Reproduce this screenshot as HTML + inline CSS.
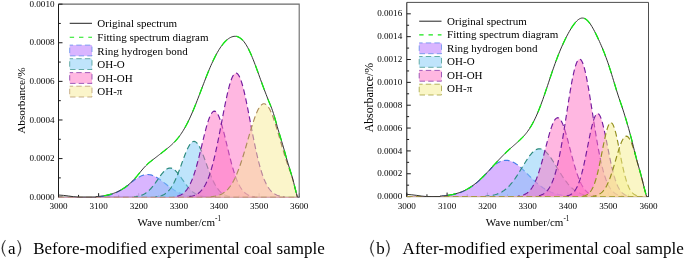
<!DOCTYPE html>
<html><head><meta charset="utf-8"><title>FTIR peak fitting</title>
<style>
html,body{margin:0;padding:0;background:#fff;}
body{width:685px;height:258px;overflow:hidden;font-family:"Liberation Serif",serif;}
svg{display:block;will-change:transform;}
svg text{font-family:"Liberation Serif",serif;fill:#000;}
</style></head><body>
<svg width="685" height="258" viewBox="0 0 685 258">
<rect width="685" height="258" fill="#fff"/>
<path d="M58.5 4.15 L299.2 4.15 L299.2 197.2" fill="none" stroke="#6a6a6a" stroke-width="1.1"/>
<path d="M58.5 4.15 L58.5 197.6" fill="none" stroke="#1a1a1a" stroke-width="1"/>
<path d="M58.0 197.2 L299.59999999999997 197.2" fill="none" stroke="#1a1a1a" stroke-width="0.85"/>
<path d="M58.5 197.2 V193.2 M78.56 197.2 V194.89999999999998 M98.62 197.2 V193.2 M58.5 197.2 H62.5 M58.5 177.89 H60.8 M58.5 158.59 H62.5 M58.5 139.28 H60.8 M58.5 119.98 H62.5 M58.5 100.67 H60.8 M58.5 81.37 H62.5 M58.5 62.07 H60.8 M58.5 42.76 H62.5 M58.5 23.45 H60.8 M58.5 4.15 H62.5" stroke="#1a1a1a" stroke-width="1" fill="none"/>
<path d="M118.68 197.2 V194.89999999999998 M138.73 197.2 V193.2 M158.79 197.2 V194.89999999999998 M178.85 197.2 V193.2 M198.91 197.2 V194.89999999999998 M218.97 197.2 V193.2 M239.03 197.2 V194.89999999999998 M259.08 197.2 V193.2 M279.14 197.2 V194.89999999999998 M299.2 197.2 V193.2" stroke="#1a1a1a" stroke-opacity="0.3" stroke-width="1" fill="none"/>
<text x="58.5" y="209" text-anchor="middle" font-size="9.1">3000</text>
<text x="98.62" y="209" text-anchor="middle" font-size="9.1">3100</text>
<text x="138.73" y="209" text-anchor="middle" font-size="9.1">3200</text>
<text x="178.85" y="209" text-anchor="middle" font-size="9.1">3300</text>
<text x="218.97" y="209" text-anchor="middle" font-size="9.1">3400</text>
<text x="259.08" y="209" text-anchor="middle" font-size="9.1">3500</text>
<text x="299.2" y="209" text-anchor="middle" font-size="9.1">3600</text>
<text x="54.5" y="199.8" text-anchor="end" font-size="9.1">0.0000</text>
<text x="54.5" y="161.19" text-anchor="end" font-size="9.1">0.0002</text>
<text x="54.5" y="122.58" text-anchor="end" font-size="9.1">0.0004</text>
<text x="54.5" y="83.97" text-anchor="end" font-size="9.1">0.0006</text>
<text x="54.5" y="45.36" text-anchor="end" font-size="9.1">0.0008</text>
<text x="54.5" y="6.75" text-anchor="end" font-size="9.1">0.0010</text>
<clipPath id="cL"><rect x="58.0" y="4.15" width="241.7" height="193.54999999999998"/></clipPath>
<g clip-path="url(#cL)">
<path d="M58.5 197.2 L59.42 197.2 L60.34 197.2 L61.27 197.2 L62.19 197.2 L63.11 197.2 L64.03 197.2 L64.96 197.2 L65.88 197.2 L66.8 197.2 L67.72 197.2 L68.65 197.2 L69.57 197.2 L70.49 197.2 L71.41 197.2 L72.34 197.2 L73.26 197.2 L74.18 197.2 L75.1 197.2 L76.03 197.2 L76.95 197.2 L77.87 197.2 L78.79 197.2 L79.72 197.2 L80.64 197.2 L81.56 197.2 L82.48 197.2 L83.4 197.2 L84.33 197.2 L85.25 197.2 L86.17 197.2 L87.09 197.2 L88.02 197.2 L88.94 197.2 L89.86 197.2 L90.78 197.2 L91.71 197.2 L92.63 197.2 L93.55 197.2 L94.47 197.2 L95.4 197.2 L96.32 196.88 L97.24 196.83 L98.16 196.77 L99.09 196.71 L100.01 196.63 L100.93 196.54 L101.85 196.44 L102.77 196.33 L103.7 196.21 L104.62 196.07 L105.54 195.92 L106.46 195.75 L107.39 195.56 L108.31 195.35 L109.23 195.12 L110.15 194.87 L111.08 194.6 L112 194.3 L112.92 193.98 L113.84 193.63 L114.77 193.25 L115.69 192.85 L116.61 192.42 L117.53 191.96 L118.46 191.51 L119.38 191.04 L120.3 190.54 L121.22 190.02 L122.15 189.48 L123.07 188.9 L123.99 188.3 L124.91 187.67 L125.83 187 L126.76 186.31 L127.68 185.59 L128.6 184.83 L129.52 184.05 L130.45 183.22 L131.37 182.37 L132.29 181.64 L133.21 180.93 L134.14 180.24 L135.06 179.57 L135.98 178.92 L136.9 178.3 L137.83 177.72 L138.75 177.17 L139.67 176.66 L140.59 176.2 L141.52 175.79 L142.44 175.43 L143.36 175.13 L144.28 174.88 L145.21 174.69 L146.13 174.57 L147.05 174.51 L147.97 174.51 L148.89 174.57 L149.82 174.7 L150.74 174.89 L151.66 175.13 L152.58 175.44 L153.51 175.8 L154.43 176.21 L155.35 176.67 L156.27 177.18 L157.2 177.73 L158.12 178.32 L159.04 178.94 L159.96 179.58 L160.89 180.26 L161.81 180.95 L162.73 181.66 L163.65 182.37 L164.58 183.1 L165.5 183.82 L166.42 184.55 L167.34 185.26 L168.26 185.97 L169.19 186.67 L170.11 187.35 L171.03 188.01 L171.95 188.65 L172.88 189.27 L173.8 189.86 L174.72 190.43 L175.64 190.97 L176.57 191.49 L177.49 191.97 L178.41 192.43 L179.33 192.86 L180.26 193.26 L181.18 193.64 L182.1 193.99 L183.02 194.31 L183.95 194.6 L184.87 194.88 L185.79 195.13 L186.71 195.36 L187.64 195.56 L188.56 195.75 L189.48 195.92 L190.4 196.08 L191.32 196.21 L192.25 196.34 L193.17 196.45 L194.09 196.54 L195.01 196.63 L195.94 196.71 L196.86 196.77 L197.78 196.83 L198.7 196.89 L199.63 196.93 L200.55 196.97 L201.47 197 L202.39 197.03 L203.32 197.06 L204.24 197.08 L205.16 197.1 L206.08 197.12 L207.01 197.13 L207.93 197.14 L208.85 197.15 L209.77 197.16 L210.69 197.17 L211.62 197.17 L212.54 197.18 L213.46 197.18 L214.38 197.18 L215.31 197.19 L216.23 197.19 L217.15 197.19 L218.07 197.19 L219 197.19 L219.92 197.2 L220.84 197.2 L221.76 197.2 L222.69 197.2 L223.61 197.2 L224.53 197.2 L225.45 197.2 L226.38 197.2 L227.3 197.2 L228.22 197.2 L229.14 197.2 L230.07 197.2 L230.99 197.2 L231.91 197.2 L232.83 197.2 L233.75 197.2 L234.68 197.2 L235.6 197.2 L236.52 197.2 L237.44 197.2 L238.37 197.2 L239.29 197.2 L240.21 197.2 L241.13 197.2 L242.06 197.2 L242.98 197.2 L243.9 197.2 L244.82 197.2 L245.75 197.2 L246.67 197.2 L247.59 197.2 L248.51 197.2 L249.44 197.2 L250.36 197.2 L251.28 197.2 L252.2 197.2 L253.13 197.2 L254.05 197.2 L254.97 197.2 L255.89 197.2 L256.81 197.2 L257.74 197.2 L258.66 197.2 L259.58 197.2 L260.5 197.2 L261.43 197.2 L262.35 197.2 L263.27 197.2 L264.19 197.2 L265.12 197.2 L266.04 197.2 L266.96 197.2 L267.88 197.2 L268.81 197.2 L269.73 197.2 L270.65 197.2 L271.57 197.2 L272.5 197.2 L273.42 197.2 L274.34 197.2 L275.26 197.2 L276.18 197.2 L277.11 197.2 L278.03 197.2 L278.95 197.2 L279.87 197.2 L280.8 197.2 L281.72 197.2 L282.64 197.2 L283.56 197.2 L284.49 197.2 L285.41 197.2 L286.33 197.2 L287.25 197.2 L288.18 197.2 L289.1 197.2 L290.02 197.2 L290.94 197.2 L291.87 197.2 L292.79 197.2 L293.71 197.2 L294.63 197.2 L295.56 197.2 L296.48 197.2 L297.4 197.2 L297.4 198 L58.5 198 Z" fill="#b46cff" fill-opacity="0.5" stroke="none"/>
<path d="M98.16 196.77 L99.09 196.71 L100.01 196.63 L100.93 196.54 L101.85 196.44 L102.77 196.33 L103.7 196.21 L104.62 196.07 L105.54 195.92 L106.46 195.75 L107.39 195.56 L108.31 195.35 L109.23 195.12 L110.15 194.87 L111.08 194.6 L112 194.3 L112.92 193.98 L113.84 193.63 L114.77 193.25 L115.69 192.85 L116.61 192.42 L117.53 191.96 L118.46 191.51 L119.38 191.04 L120.3 190.54 L121.22 190.02 L122.15 189.48 L123.07 188.9 L123.99 188.3 L124.91 187.67 L125.83 187 L126.76 186.31 L127.68 185.59 L128.6 184.83 L129.52 184.05 L130.45 183.22 L131.37 182.37 L132.29 181.64 L133.21 180.93 L134.14 180.24 L135.06 179.57 L135.98 178.92 L136.9 178.3 L137.83 177.72 L138.75 177.17 L139.67 176.66 L140.59 176.2 L141.52 175.79 L142.44 175.43 L143.36 175.13 L144.28 174.88 L145.21 174.69 L146.13 174.57 L147.05 174.51 L147.97 174.51 L148.89 174.57 L149.82 174.7 L150.74 174.89 L151.66 175.13 L152.58 175.44 L153.51 175.8 L154.43 176.21 L155.35 176.67 L156.27 177.18 L157.2 177.73 L158.12 178.32 L159.04 178.94 L159.96 179.58 L160.89 180.26 L161.81 180.95 L162.73 181.66 L163.65 182.37 L164.58 183.1 L165.5 183.82 L166.42 184.55 L167.34 185.26 L168.26 185.97 L169.19 186.67 L170.11 187.35 L171.03 188.01 L171.95 188.65 L172.88 189.27 L173.8 189.86 L174.72 190.43 L175.64 190.97 L176.57 191.49 L177.49 191.97 L178.41 192.43 L179.33 192.86 L180.26 193.26 L181.18 193.64 L182.1 193.99 L183.02 194.31 L183.95 194.6 L184.87 194.88 L185.79 195.13 L186.71 195.36 L187.64 195.56 L188.56 195.75 L189.48 195.92 L190.4 196.08 L191.32 196.21 L192.25 196.34 L193.17 196.45 L194.09 196.54 L195.01 196.63 L195.94 196.71 L196.86 196.77" fill="none" stroke="#4a7fe8" stroke-width="1.15" stroke-dasharray="5.8 3.4" stroke-dashoffset="0"/>
<path d="M58.5 197.2 L59.42 197.2 L60.34 197.2 L61.27 197.2 L62.19 197.2 L63.11 197.2 L64.03 197.2 L64.96 197.2 L65.88 197.2 L66.8 197.2 L67.72 197.2 L68.65 197.2 L69.57 197.2 L70.49 197.2 L71.41 197.2 L72.34 197.2 L73.26 197.2 L74.18 197.2 L75.1 197.2 L76.03 197.2 L76.95 197.2 L77.87 197.2 L78.79 197.2 L79.72 197.2 L80.64 197.2 L81.56 197.2 L82.48 197.2 L83.4 197.2 L84.33 197.2 L85.25 197.2 L86.17 197.2 L87.09 197.2 L88.02 197.2 L88.94 197.2 L89.86 197.2 L90.78 197.2 L91.71 197.2 L92.63 197.2 L93.55 197.2 L94.47 197.2 L95.4 197.2 L96.32 197.2 L97.24 197.2 L98.16 197.2 L99.09 197.2 L100.01 197.2 L100.93 197.2 L101.85 197.2 L102.77 197.2 L103.7 197.2 L104.62 197.2 L105.54 197.2 L106.46 197.2 L107.39 197.2 L108.31 197.2 L109.23 197.2 L110.15 197.2 L111.08 197.2 L112 197.2 L112.92 197.2 L113.84 197.2 L114.77 197.2 L115.69 197.2 L116.61 197.2 L117.53 197.2 L118.46 197.2 L119.38 197.19 L120.3 197.19 L121.22 197.19 L122.15 197.19 L123.07 197.18 L123.99 197.17 L124.91 197.17 L125.83 197.16 L126.76 197.14 L127.68 197.12 L128.6 197.1 L129.52 197.07 L130.45 197.04 L131.37 196.99 L132.29 196.94 L133.21 196.87 L134.14 196.79 L135.06 196.7 L135.98 196.58 L136.9 196.43 L137.83 196.27 L138.75 196.07 L139.67 195.83 L140.59 195.56 L141.52 195.24 L142.44 194.87 L143.36 194.45 L144.28 193.97 L145.21 193.43 L146.13 192.83 L147.05 192.16 L147.97 191.41 L148.89 190.59 L149.82 189.7 L150.74 188.74 L151.66 187.71 L152.58 186.61 L153.51 185.45 L154.43 184.23 L155.35 182.97 L156.27 181.68 L157.2 180.36 L158.12 179.03 L159.04 177.71 L159.96 176.41 L160.89 175.14 L161.81 173.94 L162.73 172.8 L163.65 171.75 L164.58 170.8 L165.5 169.97 L166.42 169.28 L167.34 168.72 L168.26 168.32 L169.19 168.08 L170.11 168 L171.03 168.08 L171.95 168.33 L172.88 168.73 L173.8 169.29 L174.72 169.99 L175.64 170.82 L176.57 171.77 L177.49 172.82 L178.41 173.96 L179.33 175.17 L180.26 176.43 L181.18 177.74 L182.1 179.06 L183.02 180.39 L183.95 181.7 L184.87 183 L185.79 184.26 L186.71 185.47 L187.64 186.63 L188.56 187.73 L189.48 188.76 L190.4 189.72 L191.32 190.61 L192.25 191.43 L193.17 192.17 L194.09 192.84 L195.01 193.45 L195.94 193.98 L196.86 194.46 L197.78 194.88 L198.7 195.25 L199.63 195.56 L200.55 195.84 L201.47 196.07 L202.39 196.27 L203.32 196.44 L204.24 196.58 L205.16 196.7 L206.08 196.8 L207.01 196.88 L207.93 196.94 L208.85 197 L209.77 197.04 L210.69 197.07 L211.62 197.1 L212.54 197.12 L213.46 197.14 L214.38 197.16 L215.31 197.17 L216.23 197.17 L217.15 197.18 L218.07 197.19 L219 197.19 L219.92 197.19 L220.84 197.19 L221.76 197.2 L222.69 197.2 L223.61 197.2 L224.53 197.2 L225.45 197.2 L226.38 197.2 L227.3 197.2 L228.22 197.2 L229.14 197.2 L230.07 197.2 L230.99 197.2 L231.91 197.2 L232.83 197.2 L233.75 197.2 L234.68 197.2 L235.6 197.2 L236.52 197.2 L237.44 197.2 L238.37 197.2 L239.29 197.2 L240.21 197.2 L241.13 197.2 L242.06 197.2 L242.98 197.2 L243.9 197.2 L244.82 197.2 L245.75 197.2 L246.67 197.2 L247.59 197.2 L248.51 197.2 L249.44 197.2 L250.36 197.2 L251.28 197.2 L252.2 197.2 L253.13 197.2 L254.05 197.2 L254.97 197.2 L255.89 197.2 L256.81 197.2 L257.74 197.2 L258.66 197.2 L259.58 197.2 L260.5 197.2 L261.43 197.2 L262.35 197.2 L263.27 197.2 L264.19 197.2 L265.12 197.2 L266.04 197.2 L266.96 197.2 L267.88 197.2 L268.81 197.2 L269.73 197.2 L270.65 197.2 L271.57 197.2 L272.5 197.2 L273.42 197.2 L274.34 197.2 L275.26 197.2 L276.18 197.2 L277.11 197.2 L278.03 197.2 L278.95 197.2 L279.87 197.2 L280.8 197.2 L281.72 197.2 L282.64 197.2 L283.56 197.2 L284.49 197.2 L285.41 197.2 L286.33 197.2 L287.25 197.2 L288.18 197.2 L289.1 197.2 L290.02 197.2 L290.94 197.2 L291.87 197.2 L292.79 197.2 L293.71 197.2 L294.63 197.2 L295.56 197.2 L296.48 197.2 L297.4 197.2 L297.4 198 L58.5 198 Z" fill="#80caf8" fill-opacity="0.5" stroke="none"/>
<path d="M134.14 196.79 L135.06 196.7 L135.98 196.58 L136.9 196.43 L137.83 196.27 L138.75 196.07 L139.67 195.83 L140.59 195.56 L141.52 195.24 L142.44 194.87 L143.36 194.45 L144.28 193.97 L145.21 193.43 L146.13 192.83 L147.05 192.16 L147.97 191.41 L148.89 190.59 L149.82 189.7 L150.74 188.74 L151.66 187.71 L152.58 186.61 L153.51 185.45 L154.43 184.23 L155.35 182.97 L156.27 181.68 L157.2 180.36 L158.12 179.03 L159.04 177.71 L159.96 176.41 L160.89 175.14 L161.81 173.94 L162.73 172.8 L163.65 171.75 L164.58 170.8 L165.5 169.97 L166.42 169.28 L167.34 168.72 L168.26 168.32 L169.19 168.08 L170.11 168 L171.03 168.08 L171.95 168.33 L172.88 168.73 L173.8 169.29 L174.72 169.99 L175.64 170.82 L176.57 171.77 L177.49 172.82 L178.41 173.96 L179.33 175.17 L180.26 176.43 L181.18 177.74 L182.1 179.06 L183.02 180.39 L183.95 181.7 L184.87 183 L185.79 184.26 L186.71 185.47 L187.64 186.63 L188.56 187.73 L189.48 188.76 L190.4 189.72 L191.32 190.61 L192.25 191.43 L193.17 192.17 L194.09 192.84 L195.01 193.45 L195.94 193.98 L196.86 194.46 L197.78 194.88 L198.7 195.25 L199.63 195.56 L200.55 195.84 L201.47 196.07 L202.39 196.27 L203.32 196.44 L204.24 196.58 L205.16 196.7 L206.08 196.8" fill="none" stroke="#2a8a7c" stroke-width="1.15" stroke-dasharray="5.8 3.4" stroke-dashoffset="1.9"/>
<path d="M58.5 197.2 L59.42 197.2 L60.34 197.2 L61.27 197.2 L62.19 197.2 L63.11 197.2 L64.03 197.2 L64.96 197.2 L65.88 197.2 L66.8 197.2 L67.72 197.2 L68.65 197.2 L69.57 197.2 L70.49 197.2 L71.41 197.2 L72.34 197.2 L73.26 197.2 L74.18 197.2 L75.1 197.2 L76.03 197.2 L76.95 197.2 L77.87 197.2 L78.79 197.2 L79.72 197.2 L80.64 197.2 L81.56 197.2 L82.48 197.2 L83.4 197.2 L84.33 197.2 L85.25 197.2 L86.17 197.2 L87.09 197.2 L88.02 197.2 L88.94 197.2 L89.86 197.2 L90.78 197.2 L91.71 197.2 L92.63 197.2 L93.55 197.2 L94.47 197.2 L95.4 197.2 L96.32 197.2 L97.24 197.2 L98.16 197.2 L99.09 197.2 L100.01 197.2 L100.93 197.2 L101.85 197.2 L102.77 197.2 L103.7 197.2 L104.62 197.2 L105.54 197.2 L106.46 197.2 L107.39 197.2 L108.31 197.2 L109.23 197.2 L110.15 197.2 L111.08 197.2 L112 197.2 L112.92 197.2 L113.84 197.2 L114.77 197.2 L115.69 197.2 L116.61 197.2 L117.53 197.2 L118.46 197.2 L119.38 197.2 L120.3 197.2 L121.22 197.2 L122.15 197.2 L123.07 197.2 L123.99 197.2 L124.91 197.2 L125.83 197.2 L126.76 197.2 L127.68 197.2 L128.6 197.2 L129.52 197.2 L130.45 197.2 L131.37 197.2 L132.29 197.2 L133.21 197.2 L134.14 197.2 L135.06 197.2 L135.98 197.2 L136.9 197.2 L137.83 197.2 L138.75 197.2 L139.67 197.2 L140.59 197.2 L141.52 197.19 L142.44 197.19 L143.36 197.19 L144.28 197.19 L145.21 197.18 L146.13 197.17 L147.05 197.17 L147.97 197.15 L148.89 197.14 L149.82 197.12 L150.74 197.1 L151.66 197.06 L152.58 197.02 L153.51 196.97 L154.43 196.91 L155.35 196.83 L156.27 196.73 L157.2 196.61 L158.12 196.46 L159.04 196.28 L159.96 196.06 L160.89 195.8 L161.81 195.48 L162.73 195.11 L163.65 194.67 L164.58 194.16 L165.5 193.56 L166.42 192.87 L167.34 192.07 L168.26 191.17 L169.19 190.15 L170.11 189 L171.03 187.72 L171.95 186.3 L172.88 184.74 L173.8 183.03 L174.72 181.19 L175.64 179.21 L176.57 177.1 L177.49 174.87 L178.41 172.53 L179.33 170.11 L180.26 167.62 L181.18 165.08 L182.1 162.52 L183.02 159.97 L183.95 157.47 L184.87 155.03 L185.79 152.71 L186.71 150.52 L187.64 148.5 L188.56 146.69 L189.48 145.1 L190.4 143.77 L191.32 142.73 L192.25 141.97 L193.17 141.53 L194.09 141.4 L195.01 141.59 L195.94 142.1 L196.86 142.91 L197.78 144.02 L198.7 145.4 L199.63 147.03 L200.55 148.89 L201.47 150.94 L202.39 153.16 L203.32 155.51 L204.24 157.96 L205.16 160.48 L206.08 163.03 L207.01 165.59 L207.93 168.12 L208.85 170.6 L209.77 173.01 L210.69 175.32 L211.62 177.53 L212.54 179.61 L213.46 181.57 L214.38 183.38 L215.31 185.06 L216.23 186.59 L217.15 187.98 L218.07 189.24 L219 190.36 L219.92 191.36 L220.84 192.24 L221.76 193.01 L222.69 193.68 L223.61 194.26 L224.53 194.76 L225.45 195.19 L226.38 195.55 L227.3 195.85 L228.22 196.11 L229.14 196.32 L230.07 196.49 L230.99 196.64 L231.91 196.75 L232.83 196.85 L233.75 196.92 L234.68 196.98 L235.6 197.03 L236.52 197.07 L237.44 197.1 L238.37 197.13 L239.29 197.14 L240.21 197.16 L241.13 197.17 L242.06 197.18 L242.98 197.18 L243.9 197.19 L244.82 197.19 L245.75 197.19 L246.67 197.19 L247.59 197.2 L248.51 197.2 L249.44 197.2 L250.36 197.2 L251.28 197.2 L252.2 197.2 L253.13 197.2 L254.05 197.2 L254.97 197.2 L255.89 197.2 L256.81 197.2 L257.74 197.2 L258.66 197.2 L259.58 197.2 L260.5 197.2 L261.43 197.2 L262.35 197.2 L263.27 197.2 L264.19 197.2 L265.12 197.2 L266.04 197.2 L266.96 197.2 L267.88 197.2 L268.81 197.2 L269.73 197.2 L270.65 197.2 L271.57 197.2 L272.5 197.2 L273.42 197.2 L274.34 197.2 L275.26 197.2 L276.18 197.2 L277.11 197.2 L278.03 197.2 L278.95 197.2 L279.87 197.2 L280.8 197.2 L281.72 197.2 L282.64 197.2 L283.56 197.2 L284.49 197.2 L285.41 197.2 L286.33 197.2 L287.25 197.2 L288.18 197.2 L289.1 197.2 L290.02 197.2 L290.94 197.2 L291.87 197.2 L292.79 197.2 L293.71 197.2 L294.63 197.2 L295.56 197.2 L296.48 197.2 L297.4 197.2 L297.4 198 L58.5 198 Z" fill="#80caf8" fill-opacity="0.5" stroke="none"/>
<path d="M155.35 196.83 L156.27 196.73 L157.2 196.61 L158.12 196.46 L159.04 196.28 L159.96 196.06 L160.89 195.8 L161.81 195.48 L162.73 195.11 L163.65 194.67 L164.58 194.16 L165.5 193.56 L166.42 192.87 L167.34 192.07 L168.26 191.17 L169.19 190.15 L170.11 189 L171.03 187.72 L171.95 186.3 L172.88 184.74 L173.8 183.03 L174.72 181.19 L175.64 179.21 L176.57 177.1 L177.49 174.87 L178.41 172.53 L179.33 170.11 L180.26 167.62 L181.18 165.08 L182.1 162.52 L183.02 159.97 L183.95 157.47 L184.87 155.03 L185.79 152.71 L186.71 150.52 L187.64 148.5 L188.56 146.69 L189.48 145.1 L190.4 143.77 L191.32 142.73 L192.25 141.97 L193.17 141.53 L194.09 141.4 L195.01 141.59 L195.94 142.1 L196.86 142.91 L197.78 144.02 L198.7 145.4 L199.63 147.03 L200.55 148.89 L201.47 150.94 L202.39 153.16 L203.32 155.51 L204.24 157.96 L205.16 160.48 L206.08 163.03 L207.01 165.59 L207.93 168.12 L208.85 170.6 L209.77 173.01 L210.69 175.32 L211.62 177.53 L212.54 179.61 L213.46 181.57 L214.38 183.38 L215.31 185.06 L216.23 186.59 L217.15 187.98 L218.07 189.24 L219 190.36 L219.92 191.36 L220.84 192.24 L221.76 193.01 L222.69 193.68 L223.61 194.26 L224.53 194.76 L225.45 195.19 L226.38 195.55 L227.3 195.85 L228.22 196.11 L229.14 196.32 L230.07 196.49 L230.99 196.64 L231.91 196.75" fill="none" stroke="#2a8a7c" stroke-width="1.15" stroke-dasharray="5.8 3.4" stroke-dashoffset="3.8"/>
<path d="M58.5 197.2 L59.42 197.2 L60.34 197.2 L61.27 197.2 L62.19 197.2 L63.11 197.2 L64.03 197.2 L64.96 197.2 L65.88 197.2 L66.8 197.2 L67.72 197.2 L68.65 197.2 L69.57 197.2 L70.49 197.2 L71.41 197.2 L72.34 197.2 L73.26 197.2 L74.18 197.2 L75.1 197.2 L76.03 197.2 L76.95 197.2 L77.87 197.2 L78.79 197.2 L79.72 197.2 L80.64 197.2 L81.56 197.2 L82.48 197.2 L83.4 197.2 L84.33 197.2 L85.25 197.2 L86.17 197.2 L87.09 197.2 L88.02 197.2 L88.94 197.2 L89.86 197.2 L90.78 197.2 L91.71 197.2 L92.63 197.2 L93.55 197.2 L94.47 197.2 L95.4 197.2 L96.32 197.2 L97.24 197.2 L98.16 197.2 L99.09 197.2 L100.01 197.2 L100.93 197.2 L101.85 197.2 L102.77 197.2 L103.7 197.2 L104.62 197.2 L105.54 197.2 L106.46 197.2 L107.39 197.2 L108.31 197.2 L109.23 197.2 L110.15 197.2 L111.08 197.2 L112 197.2 L112.92 197.2 L113.84 197.2 L114.77 197.2 L115.69 197.2 L116.61 197.2 L117.53 197.2 L118.46 197.2 L119.38 197.2 L120.3 197.2 L121.22 197.2 L122.15 197.2 L123.07 197.2 L123.99 197.2 L124.91 197.2 L125.83 197.2 L126.76 197.2 L127.68 197.2 L128.6 197.2 L129.52 197.2 L130.45 197.2 L131.37 197.2 L132.29 197.2 L133.21 197.2 L134.14 197.2 L135.06 197.2 L135.98 197.2 L136.9 197.2 L137.83 197.2 L138.75 197.2 L139.67 197.2 L140.59 197.2 L141.52 197.2 L142.44 197.2 L143.36 197.2 L144.28 197.2 L145.21 197.2 L146.13 197.2 L147.05 197.2 L147.97 197.2 L148.89 197.2 L149.82 197.2 L150.74 197.2 L151.66 197.2 L152.58 197.2 L153.51 197.2 L154.43 197.2 L155.35 197.2 L156.27 197.2 L157.2 197.2 L158.12 197.2 L159.04 197.2 L159.96 197.19 L160.89 197.19 L161.81 197.19 L162.73 197.18 L163.65 197.18 L164.58 197.17 L165.5 197.16 L166.42 197.15 L167.34 197.13 L168.26 197.11 L169.19 197.08 L170.11 197.04 L171.03 196.99 L171.95 196.93 L172.88 196.85 L173.8 196.76 L174.72 196.64 L175.64 196.5 L176.57 196.32 L177.49 196.1 L178.41 195.84 L179.33 195.52 L180.26 195.14 L181.18 194.68 L182.1 194.14 L183.02 193.51 L183.95 192.77 L184.87 191.92 L185.79 190.93 L186.71 189.79 L187.64 188.5 L188.56 187.04 L189.48 185.4 L190.4 183.56 L191.32 181.53 L192.25 179.29 L193.17 176.85 L194.09 174.19 L195.01 171.33 L195.94 168.28 L196.86 165.03 L197.78 161.62 L198.7 158.06 L199.63 154.38 L200.55 150.6 L201.47 146.77 L202.39 142.92 L203.32 139.09 L204.24 135.33 L205.16 131.68 L206.08 128.2 L207.01 124.92 L207.93 121.9 L208.85 119.18 L209.77 116.8 L210.69 114.8 L211.62 113.21 L212.54 112.05 L213.46 111.34 L214.38 111.1 L215.31 111.33 L216.23 112.02 L217.15 113.16 L218.07 114.74 L219 116.73 L219.92 119.1 L220.84 121.81 L221.76 124.82 L222.69 128.08 L223.61 131.56 L224.53 135.2 L225.45 138.96 L226.38 142.79 L227.3 146.64 L228.22 150.47 L229.14 154.25 L230.07 157.94 L230.99 161.5 L231.91 164.92 L232.83 168.17 L233.75 171.23 L234.68 174.1 L235.6 176.76 L236.52 179.22 L237.44 181.46 L238.37 183.5 L239.29 185.34 L240.21 186.99 L241.13 188.46 L242.06 189.75 L242.98 190.89 L243.9 191.89 L244.82 192.75 L245.75 193.49 L246.67 194.12 L247.59 194.66 L248.51 195.12 L249.44 195.51 L250.36 195.83 L251.28 196.09 L252.2 196.31 L253.13 196.49 L254.05 196.64 L254.97 196.76 L255.89 196.85 L256.81 196.93 L257.74 196.99 L258.66 197.04 L259.58 197.07 L260.5 197.1 L261.43 197.13 L262.35 197.15 L263.27 197.16 L264.19 197.17 L265.12 197.18 L266.04 197.18 L266.96 197.19 L267.88 197.19 L268.81 197.19 L269.73 197.2 L270.65 197.2 L271.57 197.2 L272.5 197.2 L273.42 197.2 L274.34 197.2 L275.26 197.2 L276.18 197.2 L277.11 197.2 L278.03 197.2 L278.95 197.2 L279.87 197.2 L280.8 197.2 L281.72 197.2 L282.64 197.2 L283.56 197.2 L284.49 197.2 L285.41 197.2 L286.33 197.2 L287.25 197.2 L288.18 197.2 L289.1 197.2 L290.02 197.2 L290.94 197.2 L291.87 197.2 L292.79 197.2 L293.71 197.2 L294.63 197.2 L295.56 197.2 L296.48 197.2 L297.4 197.2 L297.4 198 L58.5 198 Z" fill="#ff70c4" fill-opacity="0.5" stroke="none"/>
<path d="M173.8 196.76 L174.72 196.64 L175.64 196.5 L176.57 196.32 L177.49 196.1 L178.41 195.84 L179.33 195.52 L180.26 195.14 L181.18 194.68 L182.1 194.14 L183.02 193.51 L183.95 192.77 L184.87 191.92 L185.79 190.93 L186.71 189.79 L187.64 188.5 L188.56 187.04 L189.48 185.4 L190.4 183.56 L191.32 181.53 L192.25 179.29 L193.17 176.85 L194.09 174.19 L195.01 171.33 L195.94 168.28 L196.86 165.03 L197.78 161.62 L198.7 158.06 L199.63 154.38 L200.55 150.6 L201.47 146.77 L202.39 142.92 L203.32 139.09 L204.24 135.33 L205.16 131.68 L206.08 128.2 L207.01 124.92 L207.93 121.9 L208.85 119.18 L209.77 116.8 L210.69 114.8 L211.62 113.21 L212.54 112.05 L213.46 111.34 L214.38 111.1 L215.31 111.33 L216.23 112.02 L217.15 113.16 L218.07 114.74 L219 116.73 L219.92 119.1 L220.84 121.81 L221.76 124.82 L222.69 128.08 L223.61 131.56 L224.53 135.2 L225.45 138.96 L226.38 142.79 L227.3 146.64 L228.22 150.47 L229.14 154.25 L230.07 157.94 L230.99 161.5 L231.91 164.92 L232.83 168.17 L233.75 171.23 L234.68 174.1 L235.6 176.76 L236.52 179.22 L237.44 181.46 L238.37 183.5 L239.29 185.34 L240.21 186.99 L241.13 188.46 L242.06 189.75 L242.98 190.89 L243.9 191.89 L244.82 192.75 L245.75 193.49 L246.67 194.12 L247.59 194.66 L248.51 195.12 L249.44 195.51 L250.36 195.83 L251.28 196.09 L252.2 196.31 L253.13 196.49 L254.05 196.64 L254.97 196.76" fill="none" stroke="#741c9e" stroke-width="1.15" stroke-dasharray="5.8 3.4" stroke-dashoffset="5.7"/>
<path d="M58.5 197.2 L59.42 197.2 L60.34 197.2 L61.27 197.2 L62.19 197.2 L63.11 197.2 L64.03 197.2 L64.96 197.2 L65.88 197.2 L66.8 197.2 L67.72 197.2 L68.65 197.2 L69.57 197.2 L70.49 197.2 L71.41 197.2 L72.34 197.2 L73.26 197.2 L74.18 197.2 L75.1 197.2 L76.03 197.2 L76.95 197.2 L77.87 197.2 L78.79 197.2 L79.72 197.2 L80.64 197.2 L81.56 197.2 L82.48 197.2 L83.4 197.2 L84.33 197.2 L85.25 197.2 L86.17 197.2 L87.09 197.2 L88.02 197.2 L88.94 197.2 L89.86 197.2 L90.78 197.2 L91.71 197.2 L92.63 197.2 L93.55 197.2 L94.47 197.2 L95.4 197.2 L96.32 197.2 L97.24 197.2 L98.16 197.2 L99.09 197.2 L100.01 197.2 L100.93 197.2 L101.85 197.2 L102.77 197.2 L103.7 197.2 L104.62 197.2 L105.54 197.2 L106.46 197.2 L107.39 197.2 L108.31 197.2 L109.23 197.2 L110.15 197.2 L111.08 197.2 L112 197.2 L112.92 197.2 L113.84 197.2 L114.77 197.2 L115.69 197.2 L116.61 197.2 L117.53 197.2 L118.46 197.2 L119.38 197.2 L120.3 197.2 L121.22 197.2 L122.15 197.2 L123.07 197.2 L123.99 197.2 L124.91 197.2 L125.83 197.2 L126.76 197.2 L127.68 197.2 L128.6 197.2 L129.52 197.2 L130.45 197.2 L131.37 197.2 L132.29 197.2 L133.21 197.2 L134.14 197.2 L135.06 197.2 L135.98 197.2 L136.9 197.2 L137.83 197.2 L138.75 197.2 L139.67 197.2 L140.59 197.2 L141.52 197.2 L142.44 197.2 L143.36 197.2 L144.28 197.2 L145.21 197.2 L146.13 197.2 L147.05 197.2 L147.97 197.2 L148.89 197.2 L149.82 197.2 L150.74 197.2 L151.66 197.2 L152.58 197.2 L153.51 197.2 L154.43 197.2 L155.35 197.2 L156.27 197.2 L157.2 197.2 L158.12 197.2 L159.04 197.2 L159.96 197.2 L160.89 197.2 L161.81 197.2 L162.73 197.2 L163.65 197.2 L164.58 197.2 L165.5 197.2 L166.42 197.2 L167.34 197.2 L168.26 197.2 L169.19 197.2 L170.11 197.2 L171.03 197.2 L171.95 197.19 L172.88 197.19 L173.8 197.19 L174.72 197.19 L175.64 197.18 L176.57 197.18 L177.49 197.17 L178.41 197.16 L179.33 197.15 L180.26 197.14 L181.18 197.12 L182.1 197.1 L183.02 197.07 L183.95 197.04 L184.87 196.99 L185.79 196.94 L186.71 196.87 L187.64 196.79 L188.56 196.69 L189.48 196.58 L190.4 196.43 L191.32 196.26 L192.25 196.05 L193.17 195.8 L194.09 195.51 L195.01 195.16 L195.94 194.75 L196.86 194.27 L197.78 193.71 L198.7 193.06 L199.63 192.32 L200.55 191.46 L201.47 190.47 L202.39 189.36 L203.32 188.09 L204.24 186.67 L205.16 185.07 L206.08 183.29 L207.01 181.31 L207.93 179.13 L208.85 176.73 L209.77 174.12 L210.69 171.27 L211.62 168.2 L212.54 164.89 L213.46 161.36 L214.38 157.61 L215.31 153.64 L216.23 149.48 L217.15 145.14 L218.07 140.64 L219 136 L219.92 131.26 L220.84 126.44 L221.76 121.59 L222.69 116.75 L223.61 111.95 L224.53 107.23 L225.45 102.65 L226.38 98.25 L227.3 94.08 L228.22 90.17 L229.14 86.58 L230.07 83.34 L230.99 80.49 L231.91 78.07 L232.83 76.11 L233.75 74.62 L234.68 73.63 L235.6 73.15 L236.52 73.18 L237.44 73.73 L238.37 74.79 L239.29 76.34 L240.21 78.37 L241.13 80.85 L242.06 83.75 L242.98 87.03 L243.9 90.67 L244.82 94.61 L245.75 98.82 L246.67 103.25 L247.59 107.85 L248.51 112.57 L249.44 117.38 L250.36 122.23 L251.28 127.08 L252.2 131.89 L253.13 136.62 L254.05 141.24 L254.97 145.72 L255.89 150.04 L256.81 154.18 L257.74 158.11 L258.66 161.84 L259.58 165.34 L260.5 168.61 L261.43 171.66 L262.35 174.47 L263.27 177.06 L264.19 179.43 L265.12 181.58 L266.04 183.54 L266.96 185.29 L267.88 186.87 L268.81 188.27 L269.73 189.51 L270.65 190.61 L271.57 191.58 L272.5 192.42 L273.42 193.15 L274.34 193.79 L275.26 194.34 L276.18 194.81 L277.11 195.21 L278.03 195.55 L278.95 195.84 L279.87 196.08 L280.8 196.28 L281.72 196.45 L282.64 196.59 L283.56 196.71 L284.49 196.8 L285.41 196.88 L286.33 196.95 L287.25 197 L288.18 197.04 L289.1 197.07 L290.02 197.1 L290.94 197.12 L291.87 197.14 L292.79 197.15 L293.71 197.16 L294.63 197.17 L295.56 197.18 L296.48 197.18 L297.4 197.2 L297.4 198 L58.5 198 Z" fill="#ff70c4" fill-opacity="0.5" stroke="none"/>
<path d="M187.64 196.79 L188.56 196.69 L189.48 196.58 L190.4 196.43 L191.32 196.26 L192.25 196.05 L193.17 195.8 L194.09 195.51 L195.01 195.16 L195.94 194.75 L196.86 194.27 L197.78 193.71 L198.7 193.06 L199.63 192.32 L200.55 191.46 L201.47 190.47 L202.39 189.36 L203.32 188.09 L204.24 186.67 L205.16 185.07 L206.08 183.29 L207.01 181.31 L207.93 179.13 L208.85 176.73 L209.77 174.12 L210.69 171.27 L211.62 168.2 L212.54 164.89 L213.46 161.36 L214.38 157.61 L215.31 153.64 L216.23 149.48 L217.15 145.14 L218.07 140.64 L219 136 L219.92 131.26 L220.84 126.44 L221.76 121.59 L222.69 116.75 L223.61 111.95 L224.53 107.23 L225.45 102.65 L226.38 98.25 L227.3 94.08 L228.22 90.17 L229.14 86.58 L230.07 83.34 L230.99 80.49 L231.91 78.07 L232.83 76.11 L233.75 74.62 L234.68 73.63 L235.6 73.15 L236.52 73.18 L237.44 73.73 L238.37 74.79 L239.29 76.34 L240.21 78.37 L241.13 80.85 L242.06 83.75 L242.98 87.03 L243.9 90.67 L244.82 94.61 L245.75 98.82 L246.67 103.25 L247.59 107.85 L248.51 112.57 L249.44 117.38 L250.36 122.23 L251.28 127.08 L252.2 131.89 L253.13 136.62 L254.05 141.24 L254.97 145.72 L255.89 150.04 L256.81 154.18 L257.74 158.11 L258.66 161.84 L259.58 165.34 L260.5 168.61 L261.43 171.66 L262.35 174.47 L263.27 177.06 L264.19 179.43 L265.12 181.58 L266.04 183.54 L266.96 185.29 L267.88 186.87 L268.81 188.27 L269.73 189.51 L270.65 190.61 L271.57 191.58 L272.5 192.42 L273.42 193.15 L274.34 193.79 L275.26 194.34 L276.18 194.81 L277.11 195.21 L278.03 195.55 L278.95 195.84 L279.87 196.08 L280.8 196.28 L281.72 196.45 L282.64 196.59 L283.56 196.71 L284.49 196.8" fill="none" stroke="#741c9e" stroke-width="1.15" stroke-dasharray="5.8 3.4" stroke-dashoffset="7.6"/>
<path d="M58.5 197.2 L59.42 197.2 L60.34 197.2 L61.27 197.2 L62.19 197.2 L63.11 197.2 L64.03 197.2 L64.96 197.2 L65.88 197.2 L66.8 197.2 L67.72 197.2 L68.65 197.2 L69.57 197.2 L70.49 197.2 L71.41 197.2 L72.34 197.2 L73.26 197.2 L74.18 197.2 L75.1 197.2 L76.03 197.2 L76.95 197.2 L77.87 197.2 L78.79 197.2 L79.72 197.2 L80.64 197.2 L81.56 197.2 L82.48 197.2 L83.4 197.2 L84.33 197.2 L85.25 197.2 L86.17 197.2 L87.09 197.2 L88.02 197.2 L88.94 197.2 L89.86 197.2 L90.78 197.2 L91.71 197.2 L92.63 197.2 L93.55 197.2 L94.47 197.2 L95.4 197.2 L96.32 197.2 L97.24 197.2 L98.16 197.2 L99.09 197.2 L100.01 197.2 L100.93 197.2 L101.85 197.2 L102.77 197.2 L103.7 197.2 L104.62 197.2 L105.54 197.2 L106.46 197.2 L107.39 197.2 L108.31 197.2 L109.23 197.2 L110.15 197.2 L111.08 197.2 L112 197.2 L112.92 197.2 L113.84 197.2 L114.77 197.2 L115.69 197.2 L116.61 197.2 L117.53 197.2 L118.46 197.2 L119.38 197.2 L120.3 197.2 L121.22 197.2 L122.15 197.2 L123.07 197.2 L123.99 197.2 L124.91 197.2 L125.83 197.2 L126.76 197.2 L127.68 197.2 L128.6 197.2 L129.52 197.2 L130.45 197.2 L131.37 197.2 L132.29 197.2 L133.21 197.2 L134.14 197.2 L135.06 197.2 L135.98 197.2 L136.9 197.2 L137.83 197.2 L138.75 197.2 L139.67 197.2 L140.59 197.2 L141.52 197.2 L142.44 197.2 L143.36 197.2 L144.28 197.2 L145.21 197.2 L146.13 197.2 L147.05 197.2 L147.97 197.2 L148.89 197.2 L149.82 197.2 L150.74 197.2 L151.66 197.2 L152.58 197.2 L153.51 197.2 L154.43 197.2 L155.35 197.2 L156.27 197.2 L157.2 197.2 L158.12 197.2 L159.04 197.2 L159.96 197.2 L160.89 197.2 L161.81 197.2 L162.73 197.2 L163.65 197.2 L164.58 197.2 L165.5 197.2 L166.42 197.2 L167.34 197.2 L168.26 197.2 L169.19 197.2 L170.11 197.2 L171.03 197.2 L171.95 197.2 L172.88 197.2 L173.8 197.2 L174.72 197.2 L175.64 197.2 L176.57 197.2 L177.49 197.2 L178.41 197.2 L179.33 197.2 L180.26 197.2 L181.18 197.2 L182.1 197.2 L183.02 197.2 L183.95 197.2 L184.87 197.2 L185.79 197.2 L186.71 197.2 L187.64 197.2 L188.56 197.2 L189.48 197.2 L190.4 197.2 L191.32 197.2 L192.25 197.19 L193.17 197.19 L194.09 197.19 L195.01 197.19 L195.94 197.18 L196.86 197.18 L197.78 197.18 L198.7 197.17 L199.63 197.16 L200.55 197.15 L201.47 197.14 L202.39 197.13 L203.32 197.11 L204.24 197.09 L205.16 197.06 L206.08 197.03 L207.01 196.99 L207.93 196.95 L208.85 196.89 L209.77 196.83 L210.69 196.75 L211.62 196.67 L212.54 196.56 L213.46 196.44 L214.38 196.29 L215.31 196.12 L216.23 195.92 L217.15 195.7 L218.07 195.43 L219 195.13 L219.92 194.79 L220.84 194.39 L221.76 193.94 L222.69 193.43 L223.61 192.86 L224.53 192.22 L225.45 191.49 L226.38 190.69 L227.3 189.79 L228.22 188.8 L229.14 187.7 L230.07 186.49 L230.99 185.17 L231.91 183.74 L232.83 182.17 L233.75 180.48 L234.68 178.66 L235.6 176.71 L236.52 174.62 L237.44 172.4 L238.37 170.05 L239.29 167.57 L240.21 164.97 L241.13 162.25 L242.06 159.42 L242.98 156.49 L243.9 153.48 L244.82 150.4 L245.75 147.26 L246.67 144.07 L247.59 140.87 L248.51 137.66 L249.44 134.47 L250.36 131.33 L251.28 128.24 L252.2 125.24 L253.13 122.36 L254.05 119.6 L254.97 117 L255.89 114.58 L256.81 112.36 L257.74 110.35 L258.66 108.59 L259.58 107.07 L260.5 105.83 L261.43 104.86 L262.35 104.18 L263.27 103.79 L264.19 103.71 L265.12 103.92 L266.04 104.43 L266.96 105.23 L267.88 106.32 L268.81 107.68 L269.73 109.3 L270.65 111.17 L271.57 113.27 L272.5 115.57 L273.42 118.07 L274.34 120.74 L275.26 123.56 L276.18 126.49 L277.11 129.53 L278.03 132.64 L278.95 135.81 L279.87 139.01 L280.8 142.22 L281.72 145.42 L282.64 148.58 L283.56 151.7 L284.49 154.76 L285.41 157.73 L286.33 160.62 L287.25 163.4 L288.18 166.07 L289.1 168.63 L290.02 171.05 L290.94 173.35 L291.87 176.17 L292.79 179.37 L293.71 182.9 L294.63 186.6 L295.56 190.22 L296.48 193.84 L297.4 197.2 L297.4 198 L58.5 198 Z" fill="#f7ec95" fill-opacity="0.5" stroke="none"/>
<path d="M58.5 197.2 H297.4" fill="none" stroke="#ad8c5c" stroke-width="0.8" stroke-dasharray="5.8 3.4"/>
<path d="M210.69 196.75 L211.62 196.67 L212.54 196.56 L213.46 196.44 L214.38 196.29 L215.31 196.12 L216.23 195.92 L217.15 195.7 L218.07 195.43 L219 195.13 L219.92 194.79 L220.84 194.39 L221.76 193.94 L222.69 193.43 L223.61 192.86 L224.53 192.22 L225.45 191.49 L226.38 190.69 L227.3 189.79 L228.22 188.8 L229.14 187.7 L230.07 186.49 L230.99 185.17 L231.91 183.74 L232.83 182.17 L233.75 180.48 L234.68 178.66 L235.6 176.71 L236.52 174.62 L237.44 172.4 L238.37 170.05 L239.29 167.57 L240.21 164.97 L241.13 162.25 L242.06 159.42 L242.98 156.49 L243.9 153.48 L244.82 150.4 L245.75 147.26 L246.67 144.07 L247.59 140.87 L248.51 137.66 L249.44 134.47 L250.36 131.33 L251.28 128.24 L252.2 125.24 L253.13 122.36 L254.05 119.6 L254.97 117 L255.89 114.58 L256.81 112.36 L257.74 110.35 L258.66 108.59 L259.58 107.07 L260.5 105.83 L261.43 104.86 L262.35 104.18 L263.27 103.79 L264.19 103.71 L265.12 103.92 L266.04 104.43 L266.96 105.23 L267.88 106.32 L268.81 107.68 L269.73 109.3 L270.65 111.17 L271.57 113.27 L272.5 115.57 L273.42 118.07 L274.34 120.74 L275.26 123.56 L276.18 126.49 L277.11 129.53 L278.03 132.64 L278.95 135.81 L279.87 139.01 L280.8 142.22 L281.72 145.42 L282.64 148.58 L283.56 151.7 L284.49 154.76 L285.41 157.73 L286.33 160.62 L287.25 163.4 L288.18 166.07 L289.1 168.63 L290.02 171.05 L290.94 173.35 L291.87 176.17 L292.79 179.37 L293.71 182.9 L294.63 186.6 L295.56 190.22 L296.48 193.84 L297.4 197.2" fill="none" stroke="#ad8c5c" stroke-width="1.15" stroke-dasharray="5.8 3.4" stroke-dashoffset="9.5"/>
<path d="M58.5 195 L63.5 195.4 L68.5 196 L73.5 196.7 L78.5 197.2 L96 197.2 L96 196.62 L96.92 196.55 L97.84 196.48 L98.76 196.39 L99.68 196.3 L100.6 196.2 L101.52 196.08 L102.44 195.96 L103.36 195.83 L104.28 195.68 L105.2 195.52 L106.12 195.35 L107.04 195.16 L107.96 194.95 L108.87 194.73 L109.79 194.5 L110.71 194.24 L111.63 193.97 L112.55 193.67 L113.47 193.36 L114.39 193.02 L115.31 192.66 L116.23 192.28 L117.15 191.87 L118.07 191.44 L118.99 190.99 L119.91 190.51 L120.83 190 L121.75 189.46 L122.67 188.9 L123.59 188.31 L124.51 187.7 L125.43 187.05 L126.35 186.37 L127.27 185.67 L128.19 184.93 L129.11 184.16 L130.03 183.35 L130.95 182.51 L131.87 181.64 L132.79 180.73 L133.71 179.77 L134.62 178.79 L135.54 177.76 L136.46 176.7 L137.38 175.62 L138.3 174.51 L139.22 173.39 L140.14 172.26 L141.06 171.14 L141.98 170.03 L142.9 168.94 L143.82 167.89 L144.74 166.88 L145.66 165.92 L146.58 165 L147.5 164.13 L148.42 163.3 L149.34 162.5 L150.26 161.74 L151.18 161 L152.1 160.28 L153.02 159.57 L153.94 158.87 L154.86 158.17 L155.78 157.46 L156.7 156.76 L157.62 156.05 L158.54 155.34 L159.45 154.62 L160.37 153.91 L161.29 153.19 L162.21 152.47 L163.13 151.76 L164.05 151.04 L164.97 150.32 L165.89 149.59 L166.81 148.86 L167.73 148.11 L168.65 147.35 L169.57 146.58 L170.49 145.78 L171.41 144.96 L172.33 144.11 L173.25 143.23 L174.17 142.31 L175.09 141.36 L176.01 140.35 L176.93 139.3 L177.85 138.2 L178.77 137.04 L179.69 135.82 L180.61 134.54 L181.53 133.2 L182.45 131.8 L183.37 130.33 L184.28 128.78 L185.2 127.17 L186.12 125.5 L187.04 123.75 L187.96 121.93 L188.88 120.05 L189.8 118.1 L190.72 116.1 L191.64 114.03 L192.56 111.9 L193.48 109.72 L194.4 107.5 L195.32 105.22 L196.24 102.91 L197.16 100.57 L198.08 98.2 L199 95.8 L199.92 93.39 L200.84 90.97 L201.76 88.55 L202.68 86.13 L203.6 83.72 L204.52 81.32 L205.44 78.95 L206.36 76.6 L207.28 74.29 L208.2 72.01 L209.12 69.78 L210.03 67.6 L210.95 65.48 L211.87 63.41 L212.79 61.41 L213.71 59.47 L214.63 57.59 L215.55 55.79 L216.47 54.07 L217.39 52.41 L218.31 50.84 L219.23 49.34 L220.15 47.92 L221.07 46.57 L221.99 45.31 L222.91 44.13 L223.83 43.03 L224.75 42 L225.67 41.06 L226.59 40.2 L227.51 39.42 L228.43 38.72 L229.35 38.11 L230.27 37.58 L231.19 37.14 L232.11 36.8 L233.03 36.53 L233.95 36.37 L234.86 36.31 L235.78 36.35 L236.7 36.47 L237.62 36.73 L238.54 37.09 L239.46 37.56 L240.38 38.17 L241.3 38.89 L242.22 39.73 L243.14 40.71 L244.06 41.82 L244.98 43.06 L245.9 44.44 L246.82 45.94 L247.74 47.58 L248.66 49.34 L249.58 51.21 L250.5 53.21 L251.42 55.31 L252.34 57.5 L253.26 59.78 L254.18 62.14 L255.1 64.56 L256.02 67.03 L256.94 69.54 L257.86 72.08 L258.78 74.62 L259.69 77.17 L260.61 79.71 L261.53 82.24 L262.45 84.74 L263.37 87.21 L264.29 89.66 L265.21 92.08 L266.13 94.48 L267.05 96.87 L267.97 99.25 L268.89 101.52 L269.81 103.7 L270.73 105.9 L271.65 108.23 L272.57 110.78 L273.49 113.59 L274.41 116.62 L275.33 119.78 L276.25 123.02 L277.17 126.26 L278.09 129.42 L279.01 132.5 L279.93 135.56 L280.85 138.62 L281.77 141.69 L282.69 144.79 L283.61 147.93 L284.53 151.15 L285.44 154.51 L286.36 157.83 L287.28 160.97 L288.2 164.02 L289.12 167.03 L290.04 170.05 L290.96 172.99 L291.88 175.98 L292.8 179.17 L293.72 182.69 L294.64 186.38 L295.56 190 L296.48 193.6 L297.4 197.2" fill="none" stroke="#333" stroke-width="1"/>
<path d="M96 196.62 L96.92 196.55 L97.84 196.48 L98.76 196.39 L99.68 196.3 L100.6 196.2 L101.52 196.08 L102.44 195.96 L103.36 195.83 L104.28 195.68 L105.2 195.52 L106.12 195.35 L107.04 195.16 L107.96 194.95 L108.87 194.73 L109.79 194.5 L110.71 194.24 L111.63 193.97 L112.55 193.67 L113.47 193.36 L114.39 193.02 L115.31 192.66 L116.23 192.28 L117.15 191.87 L118.07 191.44 L118.99 190.99 L119.91 190.51 L120.83 190 L121.75 189.46 L122.67 188.9 L123.59 188.31 L124.51 187.7 L125.43 187.05 L126.35 186.37 L127.27 185.67 L128.19 184.93 L129.11 184.16 L130.03 183.35 L130.95 182.51 L131.87 181.64 L132.79 180.73 L133.71 179.77 L134.62 178.79 L135.54 177.76 L136.46 176.7 L137.38 175.62 L138.3 174.51 L139.22 173.39 L140.14 172.26 L141.06 171.14 L141.98 170.03 L142.9 168.94 L143.82 167.89 L144.74 166.88 L145.66 165.92 L146.58 165 L147.5 164.13 L148.42 163.3 L149.34 162.5 L150.26 161.74 L151.18 161 L152.1 160.28 L153.02 159.57 L153.94 158.87 L154.86 158.17 L155.78 157.46 L156.7 156.76 L157.62 156.05 L158.54 155.34 L159.45 154.62 L160.37 153.91 L161.29 153.19 L162.21 152.47 L163.13 151.76 L164.05 151.04 L164.97 150.32 L165.89 149.59 L166.81 148.86 L167.73 148.11 L168.65 147.35 L169.57 146.58 L170.49 145.78 L171.41 144.96 L172.33 144.11 L173.25 143.23 L174.17 142.31 L175.09 141.36 L176.01 140.35 L176.93 139.3 L177.85 138.2 L178.77 137.04 L179.69 135.82 L180.61 134.54 L181.53 133.2 L182.45 131.8 L183.37 130.33 L184.28 128.78 L185.2 127.17 L186.12 125.5 L187.04 123.75 L187.96 121.93 L188.88 120.05 L189.8 118.1 L190.72 116.1 L191.64 114.03 L192.56 111.9 L193.48 109.72 L194.4 107.5 L195.32 105.22 L196.24 102.91 L197.16 100.57 L198.08 98.2 L199 95.8 L199.92 93.39 L200.84 90.97 L201.76 88.55 L202.68 86.13 L203.6 83.72 L204.52 81.32 L205.44 78.95 L206.36 76.6 L207.28 74.29 L208.2 72.01 L209.12 69.78 L210.03 67.6 L210.95 65.48 L211.87 63.41 L212.79 61.41 L213.71 59.47 L214.63 57.59 L215.55 55.79 L216.47 54.07 L217.39 52.41 L218.31 50.84 L219.23 49.34 L220.15 47.92 L221.07 46.57 L221.99 45.31 L222.91 44.13 L223.83 43.03 L224.75 42 L225.67 41.06 L226.59 40.2 L227.51 39.42 L228.43 38.72 L229.35 38.11 L230.27 37.58 L231.19 37.14 L232.11 36.8 L233.03 36.53 L233.95 36.37 L234.86 36.31 L235.78 36.35 L236.7 36.47 L237.62 36.73 L238.54 37.09 L239.46 37.56 L240.38 38.17 L241.3 38.89 L242.22 39.73 L243.14 40.71 L244.06 41.82 L244.98 43.06 L245.9 44.44 L246.82 45.94 L247.74 47.58 L248.66 49.34 L249.58 51.21 L250.5 53.21 L251.42 55.31 L252.34 57.5 L253.26 59.78 L254.18 62.14 L255.1 64.56 L256.02 67.03 L256.94 69.54 L257.86 72.08 L258.78 74.62 L259.69 77.17 L260.61 79.71 L261.53 82.24 L262.45 84.74 L263.37 87.21 L264.29 89.66 L265.21 92.08 L266.13 94.48 L267.05 96.87 L267.97 99.25 L268.89 101.52 L269.81 103.7 L270.73 105.9 L271.65 108.23 L272.57 110.78 L273.49 113.59 L274.41 116.62 L275.33 119.78 L276.25 123.02 L277.17 126.26 L278.09 129.42 L279.01 132.5 L279.93 135.56 L280.85 138.62 L281.77 141.69 L282.69 144.79 L283.61 147.93 L284.53 151.15 L285.44 154.51 L286.36 157.83 L287.28 160.97 L288.2 164.02 L289.12 167.03 L290.04 170.05 L290.96 172.99 L291.88 175.98 L292.8 179.17 L293.72 182.69 L294.64 186.38 L295.56 190 L296.48 193.6 L297.4 197.2" fill="none" stroke="#12ea12" stroke-width="1.3" stroke-dasharray="8 10" stroke-dashoffset="10"/>
</g>
<path d="M406.8 2.4 L648.5 2.4 L648.5 196.6" fill="none" stroke="#3a3a3a" stroke-width="0.9"/>
<path d="M406.8 2.4 L406.8 197.0" fill="none" stroke="#1a1a1a" stroke-width="1"/>
<path d="M406.3 196.6 L648.9 196.6" fill="none" stroke="#1a1a1a" stroke-width="0.85"/>
<path d="M406.8 196.6 V192.6 M426.94 196.6 V194.29999999999998 M447.08 196.6 V192.6 M406.8 196.6 H410.8 M406.8 185.18 H409.1 M406.8 173.75 H410.8 M406.8 162.33 H409.1 M406.8 150.91 H410.8 M406.8 139.48 H409.1 M406.8 128.06 H410.8 M406.8 116.64 H409.1 M406.8 105.21 H410.8 M406.8 93.79 H409.1 M406.8 82.36 H410.8 M406.8 70.94 H409.1 M406.8 59.52 H410.8 M406.8 48.09 H409.1 M406.8 36.67 H410.8 M406.8 25.25 H409.1 M406.8 13.82 H410.8" stroke="#1a1a1a" stroke-width="1" fill="none"/>
<path d="M467.23 196.6 V194.29999999999998 M487.37 196.6 V192.6 M507.51 196.6 V194.29999999999998 M527.65 196.6 V192.6 M547.79 196.6 V194.29999999999998 M567.93 196.6 V192.6 M588.08 196.6 V194.29999999999998 M608.22 196.6 V192.6 M628.36 196.6 V194.29999999999998 M648.5 196.6 V192.6" stroke="#1a1a1a" stroke-opacity="0.3" stroke-width="1" fill="none"/>
<text x="406.8" y="208.5" text-anchor="middle" font-size="9.1">3000</text>
<text x="447.08" y="208.5" text-anchor="middle" font-size="9.1">3100</text>
<text x="487.37" y="208.5" text-anchor="middle" font-size="9.1">3200</text>
<text x="527.65" y="208.5" text-anchor="middle" font-size="9.1">3300</text>
<text x="567.93" y="208.5" text-anchor="middle" font-size="9.1">3400</text>
<text x="608.22" y="208.5" text-anchor="middle" font-size="9.1">3500</text>
<text x="648.5" y="208.5" text-anchor="middle" font-size="9.1">3600</text>
<text x="402.2" y="199.2" text-anchor="end" font-size="9.1">0.0000</text>
<text x="402.2" y="176.35" text-anchor="end" font-size="9.1">0.0002</text>
<text x="402.2" y="153.51" text-anchor="end" font-size="9.1">0.0004</text>
<text x="402.2" y="130.66" text-anchor="end" font-size="9.1">0.0006</text>
<text x="402.2" y="107.81" text-anchor="end" font-size="9.1">0.0008</text>
<text x="402.2" y="84.96" text-anchor="end" font-size="9.1">0.0010</text>
<text x="402.2" y="62.12" text-anchor="end" font-size="9.1">0.0012</text>
<text x="402.2" y="39.27" text-anchor="end" font-size="9.1">0.0014</text>
<text x="402.2" y="16.42" text-anchor="end" font-size="9.1">0.0016</text>
<clipPath id="cR"><rect x="406.3" y="2.4" width="242.7" height="194.7"/></clipPath>
<g clip-path="url(#cR)">
<path d="M406.8 196.6 L407.73 196.6 L408.65 196.6 L409.58 196.6 L410.5 196.6 L411.43 196.6 L412.36 196.6 L413.28 196.6 L414.21 196.6 L415.13 196.6 L416.06 196.6 L416.98 196.6 L417.91 196.6 L418.84 196.6 L419.76 196.6 L420.69 196.6 L421.61 196.6 L422.54 196.6 L423.47 196.6 L424.39 196.6 L425.32 196.6 L426.24 196.6 L427.17 196.6 L428.09 196.6 L429.02 196.6 L429.95 196.6 L430.87 196.6 L431.8 196.6 L432.72 196.6 L433.65 196.6 L434.58 196.6 L435.5 196.6 L436.43 196.6 L437.35 196.6 L438.28 196.6 L439.21 196.6 L440.13 196.3 L441.06 196.23 L441.98 196.16 L442.91 196.08 L443.83 196 L444.76 195.91 L445.69 195.81 L446.61 195.7 L447.54 195.58 L448.46 195.45 L449.39 195.3 L450.32 195.15 L451.24 194.99 L452.17 194.81 L453.09 194.61 L454.02 194.4 L454.95 194.18 L455.87 193.94 L456.8 193.68 L457.72 193.4 L458.65 193.11 L459.57 192.8 L460.5 192.46 L461.43 192.1 L462.35 191.73 L463.28 191.33 L464.2 190.9 L465.13 190.46 L466.06 189.99 L466.98 189.49 L467.91 188.97 L468.83 188.43 L469.76 187.86 L470.68 187.26 L471.61 186.64 L472.54 185.99 L473.46 185.31 L474.39 184.62 L475.31 183.89 L476.24 183.14 L477.17 182.37 L478.09 181.57 L479.02 180.75 L479.94 179.91 L480.87 179.05 L481.8 178.16 L482.72 177.26 L483.65 176.34 L484.57 175.4 L485.5 174.45 L486.42 173.48 L487.35 172.51 L488.28 171.52 L489.2 170.52 L490.13 169.52 L491.05 168.51 L491.98 167.49 L492.91 166.48 L493.83 165.46 L494.76 164.74 L495.68 164.08 L496.61 163.46 L497.54 162.89 L498.46 162.37 L499.39 161.9 L500.31 161.49 L501.24 161.14 L502.16 160.85 L503.09 160.62 L504.02 160.45 L504.94 160.34 L505.87 160.3 L506.79 160.32 L507.72 160.41 L508.65 160.56 L509.57 160.78 L510.5 161.05 L511.42 161.39 L512.35 161.78 L513.27 162.23 L514.2 162.74 L515.13 163.29 L516.05 163.9 L516.98 164.55 L517.9 165.24 L518.83 165.98 L519.76 166.75 L520.68 167.55 L521.61 168.38 L522.53 169.23 L523.46 170.11 L524.39 171 L525.31 171.91 L526.24 172.82 L527.16 173.75 L528.09 174.67 L529.01 175.6 L529.94 176.52 L530.87 177.44 L531.79 178.34 L532.72 179.24 L533.64 180.12 L534.57 180.98 L535.5 181.82 L536.42 182.65 L537.35 183.45 L538.27 184.22 L539.2 184.97 L540.13 185.7 L541.05 186.4 L541.98 187.07 L542.9 187.71 L543.83 188.32 L544.75 188.91 L545.68 189.46 L546.61 189.99 L547.53 190.49 L548.46 190.96 L549.38 191.41 L550.31 191.82 L551.24 192.22 L552.16 192.58 L553.09 192.93 L554.01 193.25 L554.94 193.54 L555.86 193.82 L556.79 194.07 L557.72 194.31 L558.64 194.53 L559.57 194.73 L560.49 194.91 L561.42 195.08 L562.35 195.23 L563.27 195.37 L564.2 195.5 L565.12 195.62 L566.05 195.72 L566.98 195.82 L567.9 195.91 L568.83 195.98 L569.75 196.06 L570.68 196.12 L571.6 196.17 L572.53 196.22 L573.46 196.27 L574.38 196.31 L575.31 196.35 L576.23 196.38 L577.16 196.41 L578.09 196.43 L579.01 196.45 L579.94 196.47 L580.86 196.49 L581.79 196.5 L582.72 196.52 L583.64 196.53 L584.57 196.54 L585.49 196.55 L586.42 196.55 L587.34 196.56 L588.27 196.57 L589.2 196.57 L590.12 196.58 L591.05 196.58 L591.97 196.58 L592.9 196.59 L593.83 196.59 L594.75 196.59 L595.68 196.59 L596.6 196.59 L597.53 196.59 L598.45 196.59 L599.38 196.6 L600.31 196.6 L601.23 196.6 L602.16 196.6 L603.08 196.6 L604.01 196.6 L604.94 196.6 L605.86 196.6 L606.79 196.6 L607.71 196.6 L608.64 196.6 L609.57 196.6 L610.49 196.6 L611.42 196.6 L612.34 196.6 L613.27 196.6 L614.19 196.6 L615.12 196.6 L616.05 196.6 L616.97 196.6 L617.9 196.6 L618.82 196.6 L619.75 196.6 L620.68 196.6 L621.6 196.6 L622.53 196.6 L623.45 196.6 L624.38 196.6 L625.31 196.6 L626.23 196.6 L627.16 196.6 L628.08 196.6 L629.01 196.6 L629.93 196.6 L630.86 196.6 L631.79 196.6 L632.71 196.6 L633.64 196.6 L634.56 196.6 L635.49 196.6 L636.42 196.6 L637.34 196.6 L638.27 196.6 L639.19 196.6 L640.12 196.6 L641.04 196.6 L641.97 196.6 L642.9 196.6 L643.82 196.6 L644.75 196.6 L645.67 196.6 L646.6 196.6 L646.6 197.4 L406.8 197.4 Z" fill="#b46cff" fill-opacity="0.5" stroke="none"/>
<path d="M441.98 196.16 L442.91 196.08 L443.83 196 L444.76 195.91 L445.69 195.81 L446.61 195.7 L447.54 195.58 L448.46 195.45 L449.39 195.3 L450.32 195.15 L451.24 194.99 L452.17 194.81 L453.09 194.61 L454.02 194.4 L454.95 194.18 L455.87 193.94 L456.8 193.68 L457.72 193.4 L458.65 193.11 L459.57 192.8 L460.5 192.46 L461.43 192.1 L462.35 191.73 L463.28 191.33 L464.2 190.9 L465.13 190.46 L466.06 189.99 L466.98 189.49 L467.91 188.97 L468.83 188.43 L469.76 187.86 L470.68 187.26 L471.61 186.64 L472.54 185.99 L473.46 185.31 L474.39 184.62 L475.31 183.89 L476.24 183.14 L477.17 182.37 L478.09 181.57 L479.02 180.75 L479.94 179.91 L480.87 179.05 L481.8 178.16 L482.72 177.26 L483.65 176.34 L484.57 175.4 L485.5 174.45 L486.42 173.48 L487.35 172.51 L488.28 171.52 L489.2 170.52 L490.13 169.52 L491.05 168.51 L491.98 167.49 L492.91 166.48 L493.83 165.46 L494.76 164.74 L495.68 164.08 L496.61 163.46 L497.54 162.89 L498.46 162.37 L499.39 161.9 L500.31 161.49 L501.24 161.14 L502.16 160.85 L503.09 160.62 L504.02 160.45 L504.94 160.34 L505.87 160.3 L506.79 160.32 L507.72 160.41 L508.65 160.56 L509.57 160.78 L510.5 161.05 L511.42 161.39 L512.35 161.78 L513.27 162.23 L514.2 162.74 L515.13 163.29 L516.05 163.9 L516.98 164.55 L517.9 165.24 L518.83 165.98 L519.76 166.75 L520.68 167.55 L521.61 168.38 L522.53 169.23 L523.46 170.11 L524.39 171 L525.31 171.91 L526.24 172.82 L527.16 173.75 L528.09 174.67 L529.01 175.6 L529.94 176.52 L530.87 177.44 L531.79 178.34 L532.72 179.24 L533.64 180.12 L534.57 180.98 L535.5 181.82 L536.42 182.65 L537.35 183.45 L538.27 184.22 L539.2 184.97 L540.13 185.7 L541.05 186.4 L541.98 187.07 L542.9 187.71 L543.83 188.32 L544.75 188.91 L545.68 189.46 L546.61 189.99 L547.53 190.49 L548.46 190.96 L549.38 191.41 L550.31 191.82 L551.24 192.22 L552.16 192.58 L553.09 192.93 L554.01 193.25 L554.94 193.54 L555.86 193.82 L556.79 194.07 L557.72 194.31 L558.64 194.53 L559.57 194.73 L560.49 194.91 L561.42 195.08 L562.35 195.23 L563.27 195.37 L564.2 195.5 L565.12 195.62 L566.05 195.72 L566.98 195.82 L567.9 195.91 L568.83 195.98 L569.75 196.06 L570.68 196.12 L571.6 196.17" fill="none" stroke="#4a7fe8" stroke-width="1.15" stroke-dasharray="5.8 3.4" stroke-dashoffset="0"/>
<path d="M406.8 196.6 L407.73 196.6 L408.65 196.6 L409.58 196.6 L410.5 196.6 L411.43 196.6 L412.36 196.6 L413.28 196.6 L414.21 196.6 L415.13 196.6 L416.06 196.6 L416.98 196.6 L417.91 196.6 L418.84 196.6 L419.76 196.6 L420.69 196.6 L421.61 196.6 L422.54 196.6 L423.47 196.6 L424.39 196.6 L425.32 196.6 L426.24 196.6 L427.17 196.6 L428.09 196.6 L429.02 196.6 L429.95 196.6 L430.87 196.6 L431.8 196.6 L432.72 196.6 L433.65 196.6 L434.58 196.6 L435.5 196.6 L436.43 196.6 L437.35 196.6 L438.28 196.6 L439.21 196.6 L440.13 196.6 L441.06 196.6 L441.98 196.6 L442.91 196.6 L443.83 196.6 L444.76 196.6 L445.69 196.6 L446.61 196.6 L447.54 196.6 L448.46 196.6 L449.39 196.6 L450.32 196.6 L451.24 196.6 L452.17 196.6 L453.09 196.6 L454.02 196.6 L454.95 196.6 L455.87 196.6 L456.8 196.6 L457.72 196.6 L458.65 196.6 L459.57 196.6 L460.5 196.6 L461.43 196.6 L462.35 196.6 L463.28 196.6 L464.2 196.6 L465.13 196.59 L466.06 196.59 L466.98 196.59 L467.91 196.59 L468.83 196.59 L469.76 196.58 L470.68 196.58 L471.61 196.57 L472.54 196.57 L473.46 196.56 L474.39 196.55 L475.31 196.54 L476.24 196.53 L477.17 196.52 L478.09 196.5 L479.02 196.48 L479.94 196.45 L480.87 196.43 L481.8 196.39 L482.72 196.35 L483.65 196.31 L484.57 196.25 L485.5 196.19 L486.42 196.12 L487.35 196.04 L488.28 195.94 L489.2 195.83 L490.13 195.71 L491.05 195.56 L491.98 195.4 L492.91 195.22 L493.83 195.01 L494.76 194.78 L495.68 194.52 L496.61 194.23 L497.54 193.9 L498.46 193.54 L499.39 193.14 L500.31 192.7 L501.24 192.22 L502.16 191.69 L503.09 191.11 L504.02 190.48 L504.94 189.8 L505.87 189.06 L506.79 188.26 L507.72 187.41 L508.65 186.5 L509.57 185.53 L510.5 184.49 L511.42 183.4 L512.35 182.25 L513.27 181.05 L514.2 179.79 L515.13 178.48 L516.05 177.12 L516.98 175.72 L517.9 174.28 L518.83 172.8 L519.76 171.31 L520.68 169.79 L521.61 168.26 L522.53 166.72 L523.46 165.2 L524.39 163.68 L525.31 162.19 L526.24 160.73 L527.16 159.32 L528.09 157.95 L529.01 156.65 L529.94 155.43 L530.87 154.28 L531.79 153.22 L532.72 152.26 L533.64 151.4 L534.57 150.66 L535.5 150.04 L536.42 149.53 L537.35 149.16 L538.27 148.92 L539.2 148.81 L540.13 148.83 L541.05 148.99 L541.98 149.28 L542.9 149.7 L543.83 150.24 L544.75 150.91 L545.68 151.69 L546.61 152.58 L547.53 153.58 L548.46 154.67 L549.38 155.85 L550.31 157.1 L551.24 158.43 L552.16 159.81 L553.09 161.24 L554.01 162.71 L554.94 164.21 L555.86 165.73 L556.79 167.26 L557.72 168.79 L558.64 170.32 L559.57 171.83 L560.49 173.32 L561.42 174.79 L562.35 176.21 L563.27 177.6 L564.2 178.94 L565.12 180.24 L566.05 181.48 L566.98 182.66 L567.9 183.79 L568.83 184.86 L569.75 185.87 L570.68 186.82 L571.6 187.72 L572.53 188.55 L573.46 189.32 L574.38 190.04 L575.31 190.71 L576.23 191.32 L577.16 191.88 L578.09 192.4 L579.01 192.86 L579.94 193.29 L580.86 193.67 L581.79 194.02 L582.72 194.33 L583.64 194.61 L584.57 194.86 L585.49 195.09 L586.42 195.29 L587.34 195.46 L588.27 195.62 L589.2 195.75 L590.12 195.87 L591.05 195.98 L591.97 196.07 L592.9 196.15 L593.83 196.21 L594.75 196.27 L595.68 196.32 L596.6 196.37 L597.53 196.4 L598.45 196.44 L599.38 196.46 L600.31 196.49 L601.23 196.51 L602.16 196.52 L603.08 196.54 L604.01 196.55 L604.94 196.56 L605.86 196.56 L606.79 196.57 L607.71 196.58 L608.64 196.58 L609.57 196.58 L610.49 196.59 L611.42 196.59 L612.34 196.59 L613.27 196.59 L614.19 196.59 L615.12 196.6 L616.05 196.6 L616.97 196.6 L617.9 196.6 L618.82 196.6 L619.75 196.6 L620.68 196.6 L621.6 196.6 L622.53 196.6 L623.45 196.6 L624.38 196.6 L625.31 196.6 L626.23 196.6 L627.16 196.6 L628.08 196.6 L629.01 196.6 L629.93 196.6 L630.86 196.6 L631.79 196.6 L632.71 196.6 L633.64 196.6 L634.56 196.6 L635.49 196.6 L636.42 196.6 L637.34 196.6 L638.27 196.6 L639.19 196.6 L640.12 196.6 L641.04 196.6 L641.97 196.6 L642.9 196.6 L643.82 196.6 L644.75 196.6 L645.67 196.6 L646.6 196.6 L646.6 197.4 L406.8 197.4 Z" fill="#80caf8" fill-opacity="0.5" stroke="none"/>
<path d="M485.5 196.19 L486.42 196.12 L487.35 196.04 L488.28 195.94 L489.2 195.83 L490.13 195.71 L491.05 195.56 L491.98 195.4 L492.91 195.22 L493.83 195.01 L494.76 194.78 L495.68 194.52 L496.61 194.23 L497.54 193.9 L498.46 193.54 L499.39 193.14 L500.31 192.7 L501.24 192.22 L502.16 191.69 L503.09 191.11 L504.02 190.48 L504.94 189.8 L505.87 189.06 L506.79 188.26 L507.72 187.41 L508.65 186.5 L509.57 185.53 L510.5 184.49 L511.42 183.4 L512.35 182.25 L513.27 181.05 L514.2 179.79 L515.13 178.48 L516.05 177.12 L516.98 175.72 L517.9 174.28 L518.83 172.8 L519.76 171.31 L520.68 169.79 L521.61 168.26 L522.53 166.72 L523.46 165.2 L524.39 163.68 L525.31 162.19 L526.24 160.73 L527.16 159.32 L528.09 157.95 L529.01 156.65 L529.94 155.43 L530.87 154.28 L531.79 153.22 L532.72 152.26 L533.64 151.4 L534.57 150.66 L535.5 150.04 L536.42 149.53 L537.35 149.16 L538.27 148.92 L539.2 148.81 L540.13 148.83 L541.05 148.99 L541.98 149.28 L542.9 149.7 L543.83 150.24 L544.75 150.91 L545.68 151.69 L546.61 152.58 L547.53 153.58 L548.46 154.67 L549.38 155.85 L550.31 157.1 L551.24 158.43 L552.16 159.81 L553.09 161.24 L554.01 162.71 L554.94 164.21 L555.86 165.73 L556.79 167.26 L557.72 168.79 L558.64 170.32 L559.57 171.83 L560.49 173.32 L561.42 174.79 L562.35 176.21 L563.27 177.6 L564.2 178.94 L565.12 180.24 L566.05 181.48 L566.98 182.66 L567.9 183.79 L568.83 184.86 L569.75 185.87 L570.68 186.82 L571.6 187.72 L572.53 188.55 L573.46 189.32 L574.38 190.04 L575.31 190.71 L576.23 191.32 L577.16 191.88 L578.09 192.4 L579.01 192.86 L579.94 193.29 L580.86 193.67 L581.79 194.02 L582.72 194.33 L583.64 194.61 L584.57 194.86 L585.49 195.09 L586.42 195.29 L587.34 195.46 L588.27 195.62 L589.2 195.75 L590.12 195.87 L591.05 195.98 L591.97 196.07 L592.9 196.15 L593.83 196.21" fill="none" stroke="#2a8a7c" stroke-width="1.15" stroke-dasharray="5.8 3.4" stroke-dashoffset="1.9"/>
<path d="M406.8 196.6 L407.73 196.6 L408.65 196.6 L409.58 196.6 L410.5 196.6 L411.43 196.6 L412.36 196.6 L413.28 196.6 L414.21 196.6 L415.13 196.6 L416.06 196.6 L416.98 196.6 L417.91 196.6 L418.84 196.6 L419.76 196.6 L420.69 196.6 L421.61 196.6 L422.54 196.6 L423.47 196.6 L424.39 196.6 L425.32 196.6 L426.24 196.6 L427.17 196.6 L428.09 196.6 L429.02 196.6 L429.95 196.6 L430.87 196.6 L431.8 196.6 L432.72 196.6 L433.65 196.6 L434.58 196.6 L435.5 196.6 L436.43 196.6 L437.35 196.6 L438.28 196.6 L439.21 196.6 L440.13 196.6 L441.06 196.6 L441.98 196.6 L442.91 196.6 L443.83 196.6 L444.76 196.6 L445.69 196.6 L446.61 196.6 L447.54 196.6 L448.46 196.6 L449.39 196.6 L450.32 196.6 L451.24 196.6 L452.17 196.6 L453.09 196.6 L454.02 196.6 L454.95 196.6 L455.87 196.6 L456.8 196.6 L457.72 196.6 L458.65 196.6 L459.57 196.6 L460.5 196.6 L461.43 196.6 L462.35 196.6 L463.28 196.6 L464.2 196.6 L465.13 196.6 L466.06 196.6 L466.98 196.6 L467.91 196.6 L468.83 196.6 L469.76 196.6 L470.68 196.6 L471.61 196.6 L472.54 196.6 L473.46 196.6 L474.39 196.6 L475.31 196.6 L476.24 196.6 L477.17 196.6 L478.09 196.6 L479.02 196.6 L479.94 196.6 L480.87 196.6 L481.8 196.6 L482.72 196.6 L483.65 196.6 L484.57 196.6 L485.5 196.6 L486.42 196.6 L487.35 196.6 L488.28 196.6 L489.2 196.6 L490.13 196.6 L491.05 196.6 L491.98 196.6 L492.91 196.6 L493.83 196.6 L494.76 196.6 L495.68 196.6 L496.61 196.6 L497.54 196.6 L498.46 196.6 L499.39 196.6 L500.31 196.6 L501.24 196.6 L502.16 196.6 L503.09 196.6 L504.02 196.59 L504.94 196.59 L505.87 196.59 L506.79 196.58 L507.72 196.58 L508.65 196.57 L509.57 196.56 L510.5 196.55 L511.42 196.53 L512.35 196.51 L513.27 196.48 L514.2 196.45 L515.13 196.4 L516.05 196.34 L516.98 196.27 L517.9 196.18 L518.83 196.06 L519.76 195.92 L520.68 195.75 L521.61 195.53 L522.53 195.28 L523.46 194.96 L524.39 194.59 L525.31 194.14 L526.24 193.61 L527.16 192.98 L528.09 192.25 L529.01 191.4 L529.94 190.42 L530.87 189.3 L531.79 188.02 L532.72 186.57 L533.64 184.95 L534.57 183.14 L535.5 181.13 L536.42 178.93 L537.35 176.53 L538.27 173.93 L539.2 171.14 L540.13 168.17 L541.05 165.03 L541.98 161.75 L542.9 158.33 L543.83 154.83 L544.75 151.25 L545.68 147.65 L546.61 144.07 L547.53 140.54 L548.46 137.11 L549.38 133.82 L550.31 130.73 L551.24 127.88 L552.16 125.31 L553.09 123.06 L554.01 121.17 L554.94 119.66 L555.86 118.57 L556.79 117.92 L557.72 117.7 L558.64 117.93 L559.57 118.6 L560.49 119.71 L561.42 121.23 L562.35 123.13 L563.27 125.39 L564.2 127.98 L565.12 130.84 L566.05 133.94 L566.98 137.23 L567.9 140.66 L568.83 144.2 L569.75 147.78 L570.68 151.38 L571.6 154.95 L572.53 158.46 L573.46 161.87 L574.38 165.15 L575.31 168.28 L576.23 171.25 L577.16 174.03 L578.09 176.62 L579.01 179.01 L579.94 181.21 L580.86 183.2 L581.79 185.01 L582.72 186.62 L583.64 188.06 L584.57 189.34 L585.49 190.46 L586.42 191.43 L587.34 192.28 L588.27 193 L589.2 193.63 L590.12 194.15 L591.05 194.6 L591.97 194.97 L592.9 195.29 L593.83 195.54 L594.75 195.76 L595.68 195.93 L596.6 196.07 L597.53 196.18 L598.45 196.27 L599.38 196.35 L600.31 196.4 L601.23 196.45 L602.16 196.49 L603.08 196.51 L604.01 196.53 L604.94 196.55 L605.86 196.56 L606.79 196.57 L607.71 196.58 L608.64 196.59 L609.57 196.59 L610.49 196.59 L611.42 196.59 L612.34 196.6 L613.27 196.6 L614.19 196.6 L615.12 196.6 L616.05 196.6 L616.97 196.6 L617.9 196.6 L618.82 196.6 L619.75 196.6 L620.68 196.6 L621.6 196.6 L622.53 196.6 L623.45 196.6 L624.38 196.6 L625.31 196.6 L626.23 196.6 L627.16 196.6 L628.08 196.6 L629.01 196.6 L629.93 196.6 L630.86 196.6 L631.79 196.6 L632.71 196.6 L633.64 196.6 L634.56 196.6 L635.49 196.6 L636.42 196.6 L637.34 196.6 L638.27 196.6 L639.19 196.6 L640.12 196.6 L641.04 196.6 L641.97 196.6 L642.9 196.6 L643.82 196.6 L644.75 196.6 L645.67 196.6 L646.6 196.6 L646.6 197.4 L406.8 197.4 Z" fill="#ff70c4" fill-opacity="0.5" stroke="none"/>
<path d="M517.9 196.18 L518.83 196.06 L519.76 195.92 L520.68 195.75 L521.61 195.53 L522.53 195.28 L523.46 194.96 L524.39 194.59 L525.31 194.14 L526.24 193.61 L527.16 192.98 L528.09 192.25 L529.01 191.4 L529.94 190.42 L530.87 189.3 L531.79 188.02 L532.72 186.57 L533.64 184.95 L534.57 183.14 L535.5 181.13 L536.42 178.93 L537.35 176.53 L538.27 173.93 L539.2 171.14 L540.13 168.17 L541.05 165.03 L541.98 161.75 L542.9 158.33 L543.83 154.83 L544.75 151.25 L545.68 147.65 L546.61 144.07 L547.53 140.54 L548.46 137.11 L549.38 133.82 L550.31 130.73 L551.24 127.88 L552.16 125.31 L553.09 123.06 L554.01 121.17 L554.94 119.66 L555.86 118.57 L556.79 117.92 L557.72 117.7 L558.64 117.93 L559.57 118.6 L560.49 119.71 L561.42 121.23 L562.35 123.13 L563.27 125.39 L564.2 127.98 L565.12 130.84 L566.05 133.94 L566.98 137.23 L567.9 140.66 L568.83 144.2 L569.75 147.78 L570.68 151.38 L571.6 154.95 L572.53 158.46 L573.46 161.87 L574.38 165.15 L575.31 168.28 L576.23 171.25 L577.16 174.03 L578.09 176.62 L579.01 179.01 L579.94 181.21 L580.86 183.2 L581.79 185.01 L582.72 186.62 L583.64 188.06 L584.57 189.34 L585.49 190.46 L586.42 191.43 L587.34 192.28 L588.27 193 L589.2 193.63 L590.12 194.15 L591.05 194.6 L591.97 194.97 L592.9 195.29 L593.83 195.54 L594.75 195.76 L595.68 195.93 L596.6 196.07 L597.53 196.18" fill="none" stroke="#741c9e" stroke-width="1.15" stroke-dasharray="5.8 3.4" stroke-dashoffset="3.8"/>
<path d="M406.8 196.6 L407.73 196.6 L408.65 196.6 L409.58 196.6 L410.5 196.6 L411.43 196.6 L412.36 196.6 L413.28 196.6 L414.21 196.6 L415.13 196.6 L416.06 196.6 L416.98 196.6 L417.91 196.6 L418.84 196.6 L419.76 196.6 L420.69 196.6 L421.61 196.6 L422.54 196.6 L423.47 196.6 L424.39 196.6 L425.32 196.6 L426.24 196.6 L427.17 196.6 L428.09 196.6 L429.02 196.6 L429.95 196.6 L430.87 196.6 L431.8 196.6 L432.72 196.6 L433.65 196.6 L434.58 196.6 L435.5 196.6 L436.43 196.6 L437.35 196.6 L438.28 196.6 L439.21 196.6 L440.13 196.6 L441.06 196.6 L441.98 196.6 L442.91 196.6 L443.83 196.6 L444.76 196.6 L445.69 196.6 L446.61 196.6 L447.54 196.6 L448.46 196.6 L449.39 196.6 L450.32 196.6 L451.24 196.6 L452.17 196.6 L453.09 196.6 L454.02 196.6 L454.95 196.6 L455.87 196.6 L456.8 196.6 L457.72 196.6 L458.65 196.6 L459.57 196.6 L460.5 196.6 L461.43 196.6 L462.35 196.6 L463.28 196.6 L464.2 196.6 L465.13 196.6 L466.06 196.6 L466.98 196.6 L467.91 196.6 L468.83 196.6 L469.76 196.6 L470.68 196.6 L471.61 196.6 L472.54 196.6 L473.46 196.6 L474.39 196.6 L475.31 196.6 L476.24 196.6 L477.17 196.6 L478.09 196.6 L479.02 196.6 L479.94 196.6 L480.87 196.6 L481.8 196.6 L482.72 196.6 L483.65 196.6 L484.57 196.6 L485.5 196.6 L486.42 196.6 L487.35 196.6 L488.28 196.6 L489.2 196.6 L490.13 196.6 L491.05 196.6 L491.98 196.6 L492.91 196.6 L493.83 196.6 L494.76 196.6 L495.68 196.6 L496.61 196.6 L497.54 196.6 L498.46 196.6 L499.39 196.6 L500.31 196.6 L501.24 196.6 L502.16 196.6 L503.09 196.6 L504.02 196.6 L504.94 196.6 L505.87 196.6 L506.79 196.6 L507.72 196.6 L508.65 196.6 L509.57 196.6 L510.5 196.6 L511.42 196.6 L512.35 196.6 L513.27 196.6 L514.2 196.6 L515.13 196.6 L516.05 196.6 L516.98 196.6 L517.9 196.6 L518.83 196.6 L519.76 196.6 L520.68 196.6 L521.61 196.59 L522.53 196.59 L523.46 196.59 L524.39 196.59 L525.31 196.58 L526.24 196.57 L527.16 196.56 L528.09 196.55 L529.01 196.54 L529.94 196.52 L530.87 196.49 L531.79 196.46 L532.72 196.41 L533.64 196.36 L534.57 196.29 L535.5 196.2 L536.42 196.09 L537.35 195.96 L538.27 195.79 L539.2 195.58 L540.13 195.33 L541.05 195.02 L541.98 194.64 L542.9 194.2 L543.83 193.66 L544.75 193.02 L545.68 192.27 L546.61 191.38 L547.53 190.34 L548.46 189.14 L549.38 187.75 L550.31 186.16 L551.24 184.34 L552.16 182.28 L553.09 179.96 L554.01 177.37 L554.94 174.48 L555.86 171.3 L556.79 167.8 L557.72 163.99 L558.64 159.86 L559.57 155.42 L560.49 150.68 L561.42 145.66 L562.35 140.39 L563.27 134.88 L564.2 129.19 L565.12 123.34 L566.05 117.4 L566.98 111.42 L567.9 105.46 L568.83 99.58 L569.75 93.85 L570.68 88.34 L571.6 83.13 L572.53 78.27 L573.46 73.84 L574.38 69.9 L575.31 66.5 L576.23 63.7 L577.16 61.54 L578.09 60.04 L579.01 59.24 L579.94 59.15 L580.86 59.76 L581.79 61.07 L582.72 63.05 L583.64 65.68 L584.57 68.92 L585.49 72.72 L586.42 77.03 L587.34 81.77 L588.27 86.9 L589.2 92.33 L590.12 98.01 L591.05 103.85 L591.97 109.8 L592.9 115.78 L593.83 121.74 L594.75 127.62 L595.68 133.36 L596.6 138.92 L597.53 144.26 L598.45 149.35 L599.38 154.16 L600.31 158.68 L601.23 162.9 L602.16 166.8 L603.08 170.38 L604.01 173.65 L604.94 176.62 L605.86 179.29 L606.79 181.68 L607.71 183.81 L608.64 185.69 L609.57 187.34 L610.49 188.78 L611.42 190.03 L612.34 191.11 L613.27 192.04 L614.19 192.83 L615.12 193.5 L616.05 194.06 L616.97 194.53 L617.9 194.92 L618.82 195.25 L619.75 195.52 L620.68 195.74 L621.6 195.91 L622.53 196.06 L623.45 196.17 L624.38 196.27 L625.31 196.34 L626.23 196.4 L627.16 196.45 L628.08 196.48 L629.01 196.51 L629.93 196.53 L630.86 196.55 L631.79 196.56 L632.71 196.57 L633.64 196.58 L634.56 196.58 L635.49 196.59 L636.42 196.59 L637.34 196.59 L638.27 196.6 L639.19 196.6 L640.12 196.6 L641.04 196.6 L641.97 196.6 L642.9 196.6 L643.82 196.6 L644.75 196.6 L645.67 196.6 L646.6 196.6 L646.6 197.4 L406.8 197.4 Z" fill="#ff70c4" fill-opacity="0.5" stroke="none"/>
<path d="M535.5 196.2 L536.42 196.09 L537.35 195.96 L538.27 195.79 L539.2 195.58 L540.13 195.33 L541.05 195.02 L541.98 194.64 L542.9 194.2 L543.83 193.66 L544.75 193.02 L545.68 192.27 L546.61 191.38 L547.53 190.34 L548.46 189.14 L549.38 187.75 L550.31 186.16 L551.24 184.34 L552.16 182.28 L553.09 179.96 L554.01 177.37 L554.94 174.48 L555.86 171.3 L556.79 167.8 L557.72 163.99 L558.64 159.86 L559.57 155.42 L560.49 150.68 L561.42 145.66 L562.35 140.39 L563.27 134.88 L564.2 129.19 L565.12 123.34 L566.05 117.4 L566.98 111.42 L567.9 105.46 L568.83 99.58 L569.75 93.85 L570.68 88.34 L571.6 83.13 L572.53 78.27 L573.46 73.84 L574.38 69.9 L575.31 66.5 L576.23 63.7 L577.16 61.54 L578.09 60.04 L579.01 59.24 L579.94 59.15 L580.86 59.76 L581.79 61.07 L582.72 63.05 L583.64 65.68 L584.57 68.92 L585.49 72.72 L586.42 77.03 L587.34 81.77 L588.27 86.9 L589.2 92.33 L590.12 98.01 L591.05 103.85 L591.97 109.8 L592.9 115.78 L593.83 121.74 L594.75 127.62 L595.68 133.36 L596.6 138.92 L597.53 144.26 L598.45 149.35 L599.38 154.16 L600.31 158.68 L601.23 162.9 L602.16 166.8 L603.08 170.38 L604.01 173.65 L604.94 176.62 L605.86 179.29 L606.79 181.68 L607.71 183.81 L608.64 185.69 L609.57 187.34 L610.49 188.78 L611.42 190.03 L612.34 191.11 L613.27 192.04 L614.19 192.83 L615.12 193.5 L616.05 194.06 L616.97 194.53 L617.9 194.92 L618.82 195.25 L619.75 195.52 L620.68 195.74 L621.6 195.91 L622.53 196.06 L623.45 196.17" fill="none" stroke="#741c9e" stroke-width="1.15" stroke-dasharray="5.8 3.4" stroke-dashoffset="5.7"/>
<path d="M406.8 196.6 L407.73 196.6 L408.65 196.6 L409.58 196.6 L410.5 196.6 L411.43 196.6 L412.36 196.6 L413.28 196.6 L414.21 196.6 L415.13 196.6 L416.06 196.6 L416.98 196.6 L417.91 196.6 L418.84 196.6 L419.76 196.6 L420.69 196.6 L421.61 196.6 L422.54 196.6 L423.47 196.6 L424.39 196.6 L425.32 196.6 L426.24 196.6 L427.17 196.6 L428.09 196.6 L429.02 196.6 L429.95 196.6 L430.87 196.6 L431.8 196.6 L432.72 196.6 L433.65 196.6 L434.58 196.6 L435.5 196.6 L436.43 196.6 L437.35 196.6 L438.28 196.6 L439.21 196.6 L440.13 196.6 L441.06 196.6 L441.98 196.6 L442.91 196.6 L443.83 196.6 L444.76 196.6 L445.69 196.6 L446.61 196.6 L447.54 196.6 L448.46 196.6 L449.39 196.6 L450.32 196.6 L451.24 196.6 L452.17 196.6 L453.09 196.6 L454.02 196.6 L454.95 196.6 L455.87 196.6 L456.8 196.6 L457.72 196.6 L458.65 196.6 L459.57 196.6 L460.5 196.6 L461.43 196.6 L462.35 196.6 L463.28 196.6 L464.2 196.6 L465.13 196.6 L466.06 196.6 L466.98 196.6 L467.91 196.6 L468.83 196.6 L469.76 196.6 L470.68 196.6 L471.61 196.6 L472.54 196.6 L473.46 196.6 L474.39 196.6 L475.31 196.6 L476.24 196.6 L477.17 196.6 L478.09 196.6 L479.02 196.6 L479.94 196.6 L480.87 196.6 L481.8 196.6 L482.72 196.6 L483.65 196.6 L484.57 196.6 L485.5 196.6 L486.42 196.6 L487.35 196.6 L488.28 196.6 L489.2 196.6 L490.13 196.6 L491.05 196.6 L491.98 196.6 L492.91 196.6 L493.83 196.6 L494.76 196.6 L495.68 196.6 L496.61 196.6 L497.54 196.6 L498.46 196.6 L499.39 196.6 L500.31 196.6 L501.24 196.6 L502.16 196.6 L503.09 196.6 L504.02 196.6 L504.94 196.6 L505.87 196.6 L506.79 196.6 L507.72 196.6 L508.65 196.6 L509.57 196.6 L510.5 196.6 L511.42 196.6 L512.35 196.6 L513.27 196.6 L514.2 196.6 L515.13 196.6 L516.05 196.6 L516.98 196.6 L517.9 196.6 L518.83 196.6 L519.76 196.6 L520.68 196.6 L521.61 196.6 L522.53 196.6 L523.46 196.6 L524.39 196.6 L525.31 196.6 L526.24 196.6 L527.16 196.6 L528.09 196.6 L529.01 196.6 L529.94 196.6 L530.87 196.6 L531.79 196.6 L532.72 196.6 L533.64 196.6 L534.57 196.6 L535.5 196.6 L536.42 196.6 L537.35 196.6 L538.27 196.6 L539.2 196.6 L540.13 196.6 L541.05 196.6 L541.98 196.6 L542.9 196.6 L543.83 196.6 L544.75 196.6 L545.68 196.6 L546.61 196.6 L547.53 196.6 L548.46 196.6 L549.38 196.6 L550.31 196.6 L551.24 196.6 L552.16 196.6 L553.09 196.6 L554.01 196.59 L554.94 196.59 L555.86 196.59 L556.79 196.58 L557.72 196.58 L558.64 196.56 L559.57 196.55 L560.49 196.53 L561.42 196.5 L562.35 196.45 L563.27 196.4 L564.2 196.32 L565.12 196.22 L566.05 196.08 L566.98 195.91 L567.9 195.68 L568.83 195.38 L569.75 195.01 L570.68 194.54 L571.6 193.96 L572.53 193.23 L573.46 192.35 L574.38 191.29 L575.31 190.01 L576.23 188.51 L577.16 186.74 L578.09 184.69 L579.01 182.34 L579.94 179.68 L580.86 176.69 L581.79 173.39 L582.72 169.76 L583.64 165.85 L584.57 161.67 L585.49 157.26 L586.42 152.69 L587.34 148.01 L588.27 143.3 L589.2 138.64 L590.12 134.13 L591.05 129.84 L591.97 125.89 L592.9 122.36 L593.83 119.33 L594.75 116.87 L595.68 115.05 L596.6 113.92 L597.53 113.5 L598.45 113.81 L599.38 114.83 L600.31 116.55 L601.23 118.91 L602.16 121.86 L603.08 125.32 L604.01 129.21 L604.94 133.45 L605.86 137.94 L606.79 142.58 L607.71 147.28 L608.64 151.97 L609.57 156.57 L610.49 161 L611.42 165.22 L612.34 169.18 L613.27 172.85 L614.19 176.21 L615.12 179.24 L616.05 181.95 L616.97 184.35 L617.9 186.44 L618.82 188.25 L619.75 189.8 L620.68 191.11 L621.6 192.2 L622.53 193.11 L623.45 193.85 L624.38 194.46 L625.31 194.94 L626.23 195.33 L627.16 195.64 L628.08 195.87 L629.01 196.06 L629.93 196.2 L630.86 196.31 L631.79 196.39 L632.71 196.45 L633.64 196.49 L634.56 196.52 L635.49 196.55 L636.42 196.56 L637.34 196.57 L638.27 196.58 L639.19 196.59 L640.12 196.59 L641.04 196.59 L641.97 196.6 L642.9 196.6 L643.82 196.6 L644.75 196.6 L645.67 196.6 L646.6 196.6 L646.6 197.4 L406.8 197.4 Z" fill="#ff70c4" fill-opacity="0.5" stroke="none"/>
<path d="M565.12 196.22 L566.05 196.08 L566.98 195.91 L567.9 195.68 L568.83 195.38 L569.75 195.01 L570.68 194.54 L571.6 193.96 L572.53 193.23 L573.46 192.35 L574.38 191.29 L575.31 190.01 L576.23 188.51 L577.16 186.74 L578.09 184.69 L579.01 182.34 L579.94 179.68 L580.86 176.69 L581.79 173.39 L582.72 169.76 L583.64 165.85 L584.57 161.67 L585.49 157.26 L586.42 152.69 L587.34 148.01 L588.27 143.3 L589.2 138.64 L590.12 134.13 L591.05 129.84 L591.97 125.89 L592.9 122.36 L593.83 119.33 L594.75 116.87 L595.68 115.05 L596.6 113.92 L597.53 113.5 L598.45 113.81 L599.38 114.83 L600.31 116.55 L601.23 118.91 L602.16 121.86 L603.08 125.32 L604.01 129.21 L604.94 133.45 L605.86 137.94 L606.79 142.58 L607.71 147.28 L608.64 151.97 L609.57 156.57 L610.49 161 L611.42 165.22 L612.34 169.18 L613.27 172.85 L614.19 176.21 L615.12 179.24 L616.05 181.95 L616.97 184.35 L617.9 186.44 L618.82 188.25 L619.75 189.8 L620.68 191.11 L621.6 192.2 L622.53 193.11 L623.45 193.85 L624.38 194.46 L625.31 194.94 L626.23 195.33 L627.16 195.64 L628.08 195.87 L629.01 196.06 L629.93 196.2" fill="none" stroke="#741c9e" stroke-width="1.15" stroke-dasharray="5.8 3.4" stroke-dashoffset="7.6"/>
<path d="M406.8 196.6 L407.73 196.6 L408.65 196.6 L409.58 196.6 L410.5 196.6 L411.43 196.6 L412.36 196.6 L413.28 196.6 L414.21 196.6 L415.13 196.6 L416.06 196.6 L416.98 196.6 L417.91 196.6 L418.84 196.6 L419.76 196.6 L420.69 196.6 L421.61 196.6 L422.54 196.6 L423.47 196.6 L424.39 196.6 L425.32 196.6 L426.24 196.6 L427.17 196.6 L428.09 196.6 L429.02 196.6 L429.95 196.6 L430.87 196.6 L431.8 196.6 L432.72 196.6 L433.65 196.6 L434.58 196.6 L435.5 196.6 L436.43 196.6 L437.35 196.6 L438.28 196.6 L439.21 196.6 L440.13 196.6 L441.06 196.6 L441.98 196.6 L442.91 196.6 L443.83 196.6 L444.76 196.6 L445.69 196.6 L446.61 196.6 L447.54 196.6 L448.46 196.6 L449.39 196.6 L450.32 196.6 L451.24 196.6 L452.17 196.6 L453.09 196.6 L454.02 196.6 L454.95 196.6 L455.87 196.6 L456.8 196.6 L457.72 196.6 L458.65 196.6 L459.57 196.6 L460.5 196.6 L461.43 196.6 L462.35 196.6 L463.28 196.6 L464.2 196.6 L465.13 196.6 L466.06 196.6 L466.98 196.6 L467.91 196.6 L468.83 196.6 L469.76 196.6 L470.68 196.6 L471.61 196.6 L472.54 196.6 L473.46 196.6 L474.39 196.6 L475.31 196.6 L476.24 196.6 L477.17 196.6 L478.09 196.6 L479.02 196.6 L479.94 196.6 L480.87 196.6 L481.8 196.6 L482.72 196.6 L483.65 196.6 L484.57 196.6 L485.5 196.6 L486.42 196.6 L487.35 196.6 L488.28 196.6 L489.2 196.6 L490.13 196.6 L491.05 196.6 L491.98 196.6 L492.91 196.6 L493.83 196.6 L494.76 196.6 L495.68 196.6 L496.61 196.6 L497.54 196.6 L498.46 196.6 L499.39 196.6 L500.31 196.6 L501.24 196.6 L502.16 196.6 L503.09 196.6 L504.02 196.6 L504.94 196.6 L505.87 196.6 L506.79 196.6 L507.72 196.6 L508.65 196.6 L509.57 196.6 L510.5 196.6 L511.42 196.6 L512.35 196.6 L513.27 196.6 L514.2 196.6 L515.13 196.6 L516.05 196.6 L516.98 196.6 L517.9 196.6 L518.83 196.6 L519.76 196.6 L520.68 196.6 L521.61 196.6 L522.53 196.6 L523.46 196.6 L524.39 196.6 L525.31 196.6 L526.24 196.6 L527.16 196.6 L528.09 196.6 L529.01 196.6 L529.94 196.6 L530.87 196.6 L531.79 196.6 L532.72 196.6 L533.64 196.6 L534.57 196.6 L535.5 196.6 L536.42 196.6 L537.35 196.6 L538.27 196.6 L539.2 196.6 L540.13 196.6 L541.05 196.6 L541.98 196.6 L542.9 196.6 L543.83 196.6 L544.75 196.6 L545.68 196.6 L546.61 196.6 L547.53 196.6 L548.46 196.6 L549.38 196.6 L550.31 196.6 L551.24 196.6 L552.16 196.6 L553.09 196.6 L554.01 196.6 L554.94 196.6 L555.86 196.6 L556.79 196.6 L557.72 196.6 L558.64 196.6 L559.57 196.6 L560.49 196.6 L561.42 196.6 L562.35 196.6 L563.27 196.6 L564.2 196.6 L565.12 196.6 L566.05 196.6 L566.98 196.6 L567.9 196.6 L568.83 196.6 L569.75 196.6 L570.68 196.6 L571.6 196.6 L572.53 196.59 L573.46 196.59 L574.38 196.59 L575.31 196.58 L576.23 196.57 L577.16 196.55 L578.09 196.53 L579.01 196.5 L579.94 196.45 L580.86 196.38 L581.79 196.29 L582.72 196.16 L583.64 195.99 L584.57 195.76 L585.49 195.45 L586.42 195.06 L587.34 194.54 L588.27 193.89 L589.2 193.07 L590.12 192.04 L591.05 190.79 L591.97 189.28 L592.9 187.47 L593.83 185.33 L594.75 182.86 L595.68 180.03 L596.6 176.83 L597.53 173.27 L598.45 169.38 L599.38 165.18 L600.31 160.74 L601.23 156.13 L602.16 151.42 L603.08 146.72 L604.01 142.13 L604.94 137.78 L605.86 133.79 L606.79 130.25 L607.71 127.3 L608.64 125 L609.57 123.45 L610.49 122.68 L611.42 122.73 L612.34 123.59 L613.27 125.23 L614.19 127.61 L615.12 130.64 L616.05 134.23 L616.97 138.28 L617.9 142.66 L618.82 147.26 L619.75 151.97 L620.68 156.67 L621.6 161.27 L622.53 165.69 L623.45 169.85 L624.38 173.7 L625.31 177.22 L626.23 180.38 L627.16 183.17 L628.08 185.6 L629.01 187.69 L629.93 189.47 L630.86 190.95 L631.79 192.17 L632.71 193.17 L633.64 193.97 L634.56 194.61 L635.49 195.11 L636.42 195.49 L637.34 195.79 L638.27 196.01 L639.19 196.18 L640.12 196.3 L641.04 196.39 L641.97 196.45 L642.9 196.5 L643.82 196.53 L644.75 196.55 L645.67 196.57 L646.6 196.6 L646.6 197.4 L406.8 197.4 Z" fill="#f6ee8e" fill-opacity="0.5" stroke="none"/>
<path d="M582.72 196.16 L583.64 195.99 L584.57 195.76 L585.49 195.45 L586.42 195.06 L587.34 194.54 L588.27 193.89 L589.2 193.07 L590.12 192.04 L591.05 190.79 L591.97 189.28 L592.9 187.47 L593.83 185.33 L594.75 182.86 L595.68 180.03 L596.6 176.83 L597.53 173.27 L598.45 169.38 L599.38 165.18 L600.31 160.74 L601.23 156.13 L602.16 151.42 L603.08 146.72 L604.01 142.13 L604.94 137.78 L605.86 133.79 L606.79 130.25 L607.71 127.3 L608.64 125 L609.57 123.45 L610.49 122.68 L611.42 122.73 L612.34 123.59 L613.27 125.23 L614.19 127.61 L615.12 130.64 L616.05 134.23 L616.97 138.28 L617.9 142.66 L618.82 147.26 L619.75 151.97 L620.68 156.67 L621.6 161.27 L622.53 165.69 L623.45 169.85 L624.38 173.7 L625.31 177.22 L626.23 180.38 L627.16 183.17 L628.08 185.6 L629.01 187.69 L629.93 189.47 L630.86 190.95 L631.79 192.17 L632.71 193.17 L633.64 193.97 L634.56 194.61 L635.49 195.11 L636.42 195.49 L637.34 195.79 L638.27 196.01 L639.19 196.18" fill="none" stroke="#93901f" stroke-width="1.15" stroke-dasharray="5.8 3.4" stroke-dashoffset="9.5"/>
<path d="M406.8 196.6 L407.73 196.6 L408.65 196.6 L409.58 196.6 L410.5 196.6 L411.43 196.6 L412.36 196.6 L413.28 196.6 L414.21 196.6 L415.13 196.6 L416.06 196.6 L416.98 196.6 L417.91 196.6 L418.84 196.6 L419.76 196.6 L420.69 196.6 L421.61 196.6 L422.54 196.6 L423.47 196.6 L424.39 196.6 L425.32 196.6 L426.24 196.6 L427.17 196.6 L428.09 196.6 L429.02 196.6 L429.95 196.6 L430.87 196.6 L431.8 196.6 L432.72 196.6 L433.65 196.6 L434.58 196.6 L435.5 196.6 L436.43 196.6 L437.35 196.6 L438.28 196.6 L439.21 196.6 L440.13 196.6 L441.06 196.6 L441.98 196.6 L442.91 196.6 L443.83 196.6 L444.76 196.6 L445.69 196.6 L446.61 196.6 L447.54 196.6 L448.46 196.6 L449.39 196.6 L450.32 196.6 L451.24 196.6 L452.17 196.6 L453.09 196.6 L454.02 196.6 L454.95 196.6 L455.87 196.6 L456.8 196.6 L457.72 196.6 L458.65 196.6 L459.57 196.6 L460.5 196.6 L461.43 196.6 L462.35 196.6 L463.28 196.6 L464.2 196.6 L465.13 196.6 L466.06 196.6 L466.98 196.6 L467.91 196.6 L468.83 196.6 L469.76 196.6 L470.68 196.6 L471.61 196.6 L472.54 196.6 L473.46 196.6 L474.39 196.6 L475.31 196.6 L476.24 196.6 L477.17 196.6 L478.09 196.6 L479.02 196.6 L479.94 196.6 L480.87 196.6 L481.8 196.6 L482.72 196.6 L483.65 196.6 L484.57 196.6 L485.5 196.6 L486.42 196.6 L487.35 196.6 L488.28 196.6 L489.2 196.6 L490.13 196.6 L491.05 196.6 L491.98 196.6 L492.91 196.6 L493.83 196.6 L494.76 196.6 L495.68 196.6 L496.61 196.6 L497.54 196.6 L498.46 196.6 L499.39 196.6 L500.31 196.6 L501.24 196.6 L502.16 196.6 L503.09 196.6 L504.02 196.6 L504.94 196.6 L505.87 196.6 L506.79 196.6 L507.72 196.6 L508.65 196.6 L509.57 196.6 L510.5 196.6 L511.42 196.6 L512.35 196.6 L513.27 196.6 L514.2 196.6 L515.13 196.6 L516.05 196.6 L516.98 196.6 L517.9 196.6 L518.83 196.6 L519.76 196.6 L520.68 196.6 L521.61 196.6 L522.53 196.6 L523.46 196.6 L524.39 196.6 L525.31 196.6 L526.24 196.6 L527.16 196.6 L528.09 196.6 L529.01 196.6 L529.94 196.6 L530.87 196.6 L531.79 196.6 L532.72 196.6 L533.64 196.6 L534.57 196.6 L535.5 196.6 L536.42 196.6 L537.35 196.6 L538.27 196.6 L539.2 196.6 L540.13 196.6 L541.05 196.6 L541.98 196.6 L542.9 196.6 L543.83 196.6 L544.75 196.6 L545.68 196.6 L546.61 196.6 L547.53 196.6 L548.46 196.6 L549.38 196.6 L550.31 196.6 L551.24 196.6 L552.16 196.6 L553.09 196.6 L554.01 196.6 L554.94 196.6 L555.86 196.6 L556.79 196.6 L557.72 196.6 L558.64 196.6 L559.57 196.6 L560.49 196.6 L561.42 196.6 L562.35 196.6 L563.27 196.6 L564.2 196.6 L565.12 196.6 L566.05 196.6 L566.98 196.6 L567.9 196.6 L568.83 196.6 L569.75 196.6 L570.68 196.6 L571.6 196.6 L572.53 196.6 L573.46 196.6 L574.38 196.6 L575.31 196.6 L576.23 196.6 L577.16 196.6 L578.09 196.6 L579.01 196.6 L579.94 196.6 L580.86 196.59 L581.79 196.59 L582.72 196.59 L583.64 196.58 L584.57 196.57 L585.49 196.56 L586.42 196.55 L587.34 196.53 L588.27 196.5 L589.2 196.47 L590.12 196.42 L591.05 196.36 L591.97 196.28 L592.9 196.18 L593.83 196.05 L594.75 195.88 L595.68 195.67 L596.6 195.41 L597.53 195.08 L598.45 194.68 L599.38 194.2 L600.31 193.61 L601.23 192.91 L602.16 192.08 L603.08 191.11 L604.01 189.98 L604.94 188.68 L605.86 187.19 L606.79 185.5 L607.71 183.62 L608.64 181.52 L609.57 179.23 L610.49 176.74 L611.42 174.06 L612.34 171.22 L613.27 168.23 L614.19 165.13 L615.12 161.97 L616.05 158.77 L616.97 155.59 L617.9 152.48 L618.82 149.5 L619.75 146.7 L620.68 144.13 L621.6 141.85 L622.53 139.91 L623.45 138.34 L624.38 137.18 L625.31 136.47 L626.23 136.2 L627.16 136.4 L628.08 137.05 L629.01 138.14 L629.93 139.65 L630.86 141.54 L631.79 143.77 L632.71 146.3 L633.64 149.07 L634.56 152.03 L635.49 155.31 L636.42 158.93 L637.34 162.35 L638.27 165.63 L639.19 168.86 L640.12 172.11 L641.04 175.47 L641.97 179.02 L642.9 182.73 L643.82 186.46 L644.75 190.1 L645.67 193.54 L646.6 196.6 L646.6 197.4 L406.8 197.4 Z" fill="#f6ee8e" fill-opacity="0.5" stroke="none"/>
<path d="M406.8 196.6 H646.6" fill="none" stroke="#93901f" stroke-width="0.8" stroke-dasharray="5.8 3.4"/>
<path d="M592.9 196.18 L593.83 196.05 L594.75 195.88 L595.68 195.67 L596.6 195.41 L597.53 195.08 L598.45 194.68 L599.38 194.2 L600.31 193.61 L601.23 192.91 L602.16 192.08 L603.08 191.11 L604.01 189.98 L604.94 188.68 L605.86 187.19 L606.79 185.5 L607.71 183.62 L608.64 181.52 L609.57 179.23 L610.49 176.74 L611.42 174.06 L612.34 171.22 L613.27 168.23 L614.19 165.13 L615.12 161.97 L616.05 158.77 L616.97 155.59 L617.9 152.48 L618.82 149.5 L619.75 146.7 L620.68 144.13 L621.6 141.85 L622.53 139.91 L623.45 138.34 L624.38 137.18 L625.31 136.47 L626.23 136.2 L627.16 136.4 L628.08 137.05 L629.01 138.14 L629.93 139.65 L630.86 141.54 L631.79 143.77 L632.71 146.3 L633.64 149.07 L634.56 152.03 L635.49 155.31 L636.42 158.93 L637.34 162.35 L638.27 165.63 L639.19 168.86 L640.12 172.11 L641.04 175.47 L641.97 179.02 L642.9 182.73 L643.82 186.46 L644.75 190.1 L645.67 193.54 L646.6 196.6" fill="none" stroke="#93901f" stroke-width="1.15" stroke-dasharray="5.8 3.4" stroke-dashoffset="11.4"/>
<path d="M406.8 194.4 L411.8 194.8 L416.8 195.4 L421.8 196.1 L426.8 196.6 L440 196.6 L440 196.05 L440.94 195.99 L441.89 195.92 L442.83 195.84 L443.77 195.76 L444.72 195.66 L445.66 195.56 L446.6 195.45 L447.55 195.33 L448.49 195.19 L449.43 195.05 L450.38 194.89 L451.32 194.72 L452.26 194.54 L453.21 194.34 L454.15 194.12 L455.09 193.89 L456.04 193.64 L456.98 193.38 L457.92 193.09 L458.87 192.79 L459.81 192.46 L460.75 192.12 L461.7 191.75 L462.64 191.35 L463.58 190.94 L464.53 190.5 L465.47 190.04 L466.41 189.55 L467.36 189.03 L468.3 188.49 L469.24 187.93 L470.19 187.33 L471.13 186.71 L472.07 186.06 L473.02 185.39 L473.96 184.69 L474.91 183.96 L475.85 183.21 L476.79 182.43 L477.74 181.63 L478.68 180.8 L479.62 179.95 L480.57 179.08 L481.51 178.19 L482.45 177.27 L483.4 176.34 L484.34 175.39 L485.28 174.42 L486.23 173.44 L487.17 172.45 L488.11 171.44 L489.06 170.43 L490 169.41 L490.94 168.38 L491.89 167.35 L492.83 166.31 L493.77 165.28 L494.72 164.24 L495.66 163.21 L496.6 162.19 L497.55 161.17 L498.49 160.15 L499.43 159.15 L500.38 158.16 L501.32 157.18 L502.26 156.21 L503.21 155.26 L504.15 154.32 L505.09 153.39 L506.04 152.48 L506.98 151.58 L507.92 150.7 L508.87 149.83 L509.81 148.98 L510.75 148.13 L511.7 147.3 L512.64 146.47 L513.58 145.64 L514.53 144.82 L515.47 144 L516.41 143.18 L517.36 142.34 L518.3 141.5 L519.24 140.63 L520.19 139.75 L521.13 138.84 L522.07 137.89 L523.02 136.91 L523.96 135.88 L524.9 134.81 L525.85 133.68 L526.79 132.48 L527.73 131.22 L528.68 129.89 L529.62 128.49 L530.56 126.99 L531.51 125.42 L532.45 123.75 L533.39 122 L534.34 120.14 L535.28 118.2 L536.22 116.16 L537.17 114.02 L538.11 111.79 L539.05 109.48 L540 107.07 L540.94 104.59 L541.88 102.04 L542.83 99.42 L543.77 96.74 L544.72 94.01 L545.66 91.24 L546.6 88.45 L547.55 85.63 L548.49 82.8 L549.43 79.97 L550.38 77.15 L551.32 74.36 L552.26 71.59 L553.21 68.86 L554.15 66.17 L555.09 63.54 L556.04 60.96 L556.98 58.44 L557.92 55.98 L558.87 53.59 L559.81 51.27 L560.75 49.02 L561.7 46.83 L562.64 44.71 L563.58 42.65 L564.53 40.66 L565.47 38.73 L566.41 36.86 L567.36 35.05 L568.3 33.3 L569.24 31.61 L570.19 29.99 L571.13 28.44 L572.07 26.97 L573.02 25.57 L573.96 24.26 L574.9 23.06 L575.85 21.95 L576.79 20.96 L577.73 20.1 L578.68 19.37 L579.62 18.8 L580.56 18.38 L581.51 18.11 L582.45 18.05 L583.39 18.14 L584.34 18.38 L585.28 18.83 L586.22 19.46 L587.17 20.25 L588.11 21.21 L589.05 22.33 L590 23.59 L590.94 24.98 L591.88 26.49 L592.83 28.11 L593.77 29.82 L594.71 31.6 L595.66 33.46 L596.6 35.38 L597.54 37.35 L598.49 39.36 L599.43 41.42 L600.37 43.53 L601.32 45.69 L602.26 47.9 L603.2 50.18 L604.15 52.53 L605.09 54.96 L606.03 57.48 L606.98 60.09 L607.92 62.79 L608.86 65.59 L609.81 68.48 L610.75 71.44 L611.69 74.47 L612.64 77.55 L613.58 80.66 L614.53 83.78 L615.47 86.88 L616.41 89.96 L617.36 92.99 L618.3 95.93 L619.24 98.73 L620.19 101.46 L621.13 104.19 L622.07 107 L623.02 109.91 L623.96 112.89 L624.9 115.92 L625.85 119.01 L626.79 122.16 L627.73 125.37 L628.68 128.67 L629.62 132.07 L630.56 135.57 L631.51 139.14 L632.45 142.83 L633.39 146.63 L634.34 150.45 L635.28 154.22 L636.22 157.94 L637.17 161.47 L638.11 164.83 L639.05 168.12 L640 171.42 L640.94 174.83 L641.88 178.43 L642.83 182.2 L643.77 186 L644.71 189.71 L645.66 193.23 L646.6 196.6" fill="none" stroke="#333" stroke-width="1"/>
<path d="M440 196.05 L440.94 195.99 L441.89 195.92 L442.83 195.84 L443.77 195.76 L444.72 195.66 L445.66 195.56 L446.6 195.45 L447.55 195.33 L448.49 195.19 L449.43 195.05 L450.38 194.89 L451.32 194.72 L452.26 194.54 L453.21 194.34 L454.15 194.12 L455.09 193.89 L456.04 193.64 L456.98 193.38 L457.92 193.09 L458.87 192.79 L459.81 192.46 L460.75 192.12 L461.7 191.75 L462.64 191.35 L463.58 190.94 L464.53 190.5 L465.47 190.04 L466.41 189.55 L467.36 189.03 L468.3 188.49 L469.24 187.93 L470.19 187.33 L471.13 186.71 L472.07 186.06 L473.02 185.39 L473.96 184.69 L474.91 183.96 L475.85 183.21 L476.79 182.43 L477.74 181.63 L478.68 180.8 L479.62 179.95 L480.57 179.08 L481.51 178.19 L482.45 177.27 L483.4 176.34 L484.34 175.39 L485.28 174.42 L486.23 173.44 L487.17 172.45 L488.11 171.44 L489.06 170.43 L490 169.41 L490.94 168.38 L491.89 167.35 L492.83 166.31 L493.77 165.28 L494.72 164.24 L495.66 163.21 L496.6 162.19 L497.55 161.17 L498.49 160.15 L499.43 159.15 L500.38 158.16 L501.32 157.18 L502.26 156.21 L503.21 155.26 L504.15 154.32 L505.09 153.39 L506.04 152.48 L506.98 151.58 L507.92 150.7 L508.87 149.83 L509.81 148.98 L510.75 148.13 L511.7 147.3 L512.64 146.47 L513.58 145.64 L514.53 144.82 L515.47 144 L516.41 143.18 L517.36 142.34 L518.3 141.5 L519.24 140.63 L520.19 139.75 L521.13 138.84 L522.07 137.89 L523.02 136.91 L523.96 135.88 L524.9 134.81 L525.85 133.68 L526.79 132.48 L527.73 131.22 L528.68 129.89 L529.62 128.49 L530.56 126.99 L531.51 125.42 L532.45 123.75 L533.39 122 L534.34 120.14 L535.28 118.2 L536.22 116.16 L537.17 114.02 L538.11 111.79 L539.05 109.48 L540 107.07 L540.94 104.59 L541.88 102.04 L542.83 99.42 L543.77 96.74 L544.72 94.01 L545.66 91.24 L546.6 88.45 L547.55 85.63 L548.49 82.8 L549.43 79.97 L550.38 77.15 L551.32 74.36 L552.26 71.59 L553.21 68.86 L554.15 66.17 L555.09 63.54 L556.04 60.96 L556.98 58.44 L557.92 55.98 L558.87 53.59 L559.81 51.27 L560.75 49.02 L561.7 46.83 L562.64 44.71 L563.58 42.65 L564.53 40.66 L565.47 38.73 L566.41 36.86 L567.36 35.05 L568.3 33.3 L569.24 31.61 L570.19 29.99 L571.13 28.44 L572.07 26.97 L573.02 25.57 L573.96 24.26 L574.9 23.06 L575.85 21.95 L576.79 20.96 L577.73 20.1 L578.68 19.37 L579.62 18.8 L580.56 18.38 L581.51 18.11 L582.45 18.05 L583.39 18.14 L584.34 18.38 L585.28 18.83 L586.22 19.46 L587.17 20.25 L588.11 21.21 L589.05 22.33 L590 23.59 L590.94 24.98 L591.88 26.49 L592.83 28.11 L593.77 29.82 L594.71 31.6 L595.66 33.46 L596.6 35.38 L597.54 37.35 L598.49 39.36 L599.43 41.42 L600.37 43.53 L601.32 45.69 L602.26 47.9 L603.2 50.18 L604.15 52.53 L605.09 54.96 L606.03 57.48 L606.98 60.09 L607.92 62.79 L608.86 65.59 L609.81 68.48 L610.75 71.44 L611.69 74.47 L612.64 77.55 L613.58 80.66 L614.53 83.78 L615.47 86.88 L616.41 89.96 L617.36 92.99 L618.3 95.93 L619.24 98.73 L620.19 101.46 L621.13 104.19 L622.07 107 L623.02 109.91 L623.96 112.89 L624.9 115.92 L625.85 119.01 L626.79 122.16 L627.73 125.37 L628.68 128.67 L629.62 132.07 L630.56 135.57 L631.51 139.14 L632.45 142.83 L633.39 146.63 L634.34 150.45 L635.28 154.22 L636.22 157.94 L637.17 161.47 L638.11 164.83 L639.05 168.12 L640 171.42 L640.94 174.83 L641.88 178.43 L642.83 182.2 L643.77 186 L644.71 189.71 L645.66 193.23 L646.6 196.6" fill="none" stroke="#12ea12" stroke-width="1.3" stroke-dasharray="8 10" stroke-dashoffset="10"/>
</g>
<path d="M69.7 23.3 H92.0" stroke="#222" stroke-width="1"/>
<path d="M69.7 37.3 H92.0" stroke="#19e619" stroke-width="1.1" stroke-dasharray="4.4 4.9"/>
<rect x="69.7" y="45.1" width="22.3" height="10.8" fill="#b46cff" fill-opacity="0.5" stroke="#4a7fe8" stroke-width="0.8" stroke-opacity="0.85" stroke-dasharray="5.4 3.2" stroke-dashoffset="2"/>
<rect x="69.7" y="58.7" width="22.3" height="10.8" fill="#80caf8" fill-opacity="0.5" stroke="#2a8a7c" stroke-width="0.8" stroke-opacity="0.85" stroke-dasharray="5.4 3.2" stroke-dashoffset="2"/>
<rect x="69.7" y="72.6" width="22.3" height="10.8" fill="#ff70c4" fill-opacity="0.5" stroke="#741c9e" stroke-width="0.8" stroke-opacity="0.85" stroke-dasharray="5.4 3.2" stroke-dashoffset="2"/>
<rect x="69.7" y="86.2" width="22.3" height="10.8" fill="#f7ec95" fill-opacity="0.5" stroke="#ad8c5c" stroke-width="0.8" stroke-opacity="0.85" stroke-dasharray="5.4 3.2" stroke-dashoffset="2"/>
<text x="97.3" y="27.2" font-size="11">Original spectrum</text>
<text x="97.3" y="41" font-size="11">Fitting spectrum diagram</text>
<text x="97.3" y="54.8" font-size="11">Ring hydrogen bond</text>
<text x="97.3" y="68.2" font-size="11">OH-O</text>
<text x="97.3" y="81.6" font-size="11">OH-OH</text>
<text x="97.3" y="94.9" font-size="11">OH-π</text>
<path d="M419.2 21.2 H441.5" stroke="#222" stroke-width="1"/>
<path d="M419.2 34.9 H441.5" stroke="#19e619" stroke-width="1.1" stroke-dasharray="4.4 4.9"/>
<rect x="419.2" y="42.9" width="22.3" height="10.8" fill="#b46cff" fill-opacity="0.5" stroke="#4a7fe8" stroke-width="0.8" stroke-opacity="0.85" stroke-dasharray="5.4 3.2" stroke-dashoffset="2"/>
<rect x="419.2" y="56.5" width="22.3" height="10.8" fill="#80caf8" fill-opacity="0.5" stroke="#2a8a7c" stroke-width="0.8" stroke-opacity="0.85" stroke-dasharray="5.4 3.2" stroke-dashoffset="2"/>
<rect x="419.2" y="70.4" width="22.3" height="10.8" fill="#ff70c4" fill-opacity="0.5" stroke="#741c9e" stroke-width="0.8" stroke-opacity="0.85" stroke-dasharray="5.4 3.2" stroke-dashoffset="2"/>
<rect x="419.2" y="84.2" width="22.3" height="10.8" fill="#f6ee8e" fill-opacity="0.5" stroke="#93901f" stroke-width="0.8" stroke-opacity="0.85" stroke-dasharray="5.4 3.2" stroke-dashoffset="2"/>
<text x="447.1" y="24.7" font-size="11">Original spectrum</text>
<text x="447.1" y="38.4" font-size="11">Fitting spectrum diagram</text>
<text x="447.1" y="51.7" font-size="11">Ring hydrogen bond</text>
<text x="447.1" y="65.2" font-size="11">OH-O</text>
<text x="447.1" y="78.9" font-size="11">OH-OH</text>
<text x="447.1" y="92.4" font-size="11">OH-π</text>
<text transform="translate(25.2 100.6) rotate(-90)" text-anchor="middle" font-size="11.3">Absorbance/%</text>
<text transform="translate(372.7 97.6) rotate(-90)" text-anchor="middle" font-size="11.8">Absorbance/%</text>
<text x="137.4" y="226.2" font-size="11">Wave number/cm<tspan font-size="7.2" dy="-5">-1</tspan></text>
<text x="485.8" y="226.2" font-size="11">Wave number/cm<tspan font-size="7.2" dy="-5">-1</tspan></text>
<path d="M5.2 240 Q-1.8 248.3 5.2 256.6 L5.5 256.3 Q0 248.3 5.5 240.3 Z" fill="#222" stroke="#222" stroke-width="0.25"/>
<text x="8" y="253.6" font-size="17">a</text>
<path d="M17.8 240 Q24.4 248.3 17.8 256.6 L17.5 256.3 Q22.6 248.3 17.5 240.3 Z" fill="#222" stroke="#222" stroke-width="0.25"/>
<text x="33.2" y="253.6" font-size="17" textLength="291.6" lengthAdjust="spacing">Before-modified experimental coal sample</text>
<path d="M373.7 240 Q366.7 248.3 373.7 256.6 L374 256.3 Q368.5 248.3 374 240.3 Z" fill="#222" stroke="#222" stroke-width="0.25"/>
<text x="376.2" y="253.6" font-size="17">b</text>
<path d="M386.4 240 Q393 248.3 386.4 256.6 L386.1 256.3 Q391.2 248.3 386.1 240.3 Z" fill="#222" stroke="#222" stroke-width="0.25"/>
<text x="402.6" y="253.6" font-size="17" textLength="281.3" lengthAdjust="spacing">After-modified experimental coal sample</text>
</svg>
</body></html>
